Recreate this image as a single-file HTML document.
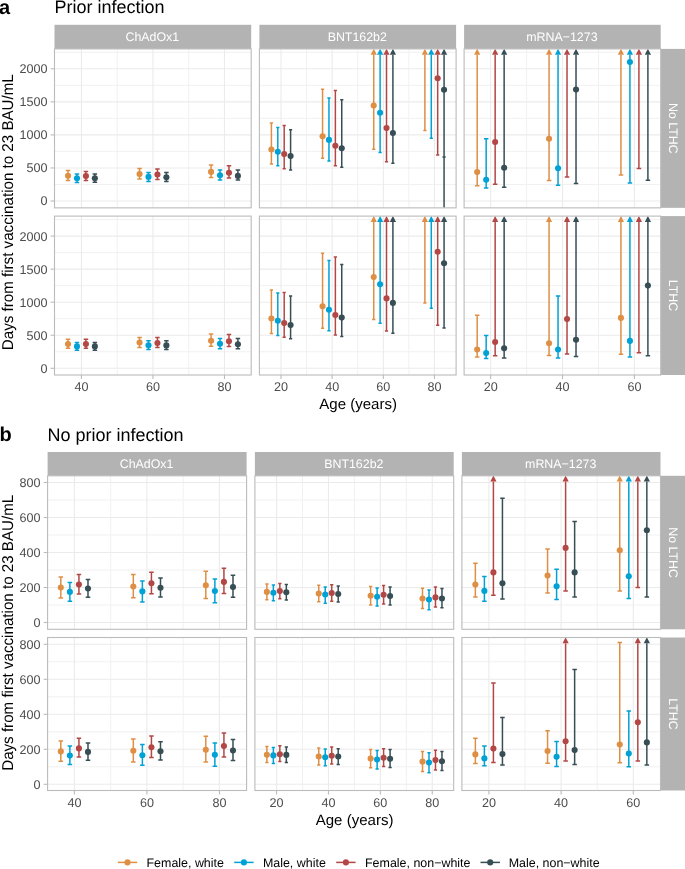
<!DOCTYPE html>
<html><head><meta charset="utf-8"><style>
html,body{margin:0;padding:0;background:#fff;}
svg{display:block;}
body>svg{will-change:transform;text-rendering:geometricPrecision;}
</style></head><body>
<svg width="685" height="869" viewBox="0 0 685 869" font-family="Liberation Sans, sans-serif">
<rect width="685" height="869" fill="#fff"/>
<text x="-0.9" y="13.9" font-size="20" font-weight="bold" fill="#000">a</text>
<text x="54.5" y="12.9" font-size="18" fill="#000">Prior infection</text>
<text x="-0.5" y="440.9" font-size="20" font-weight="bold" fill="#000">b</text>
<text x="47.5" y="440.6" font-size="18" fill="#000">No prior infection</text>
<rect x="54.5" y="24.8" width="196.7" height="24.1" fill="#B3B3B3"/>
<text transform="translate(152.35,41.1) scale(1,1.001)" text-anchor="middle" fill="#fff" font-size="12.4">ChAdOx1</text>
<rect x="259.4" y="24.8" width="196.7" height="24.1" fill="#B3B3B3"/>
<text transform="translate(357.25,41.1) scale(1,1.001)" text-anchor="middle" fill="#fff" font-size="12.4">BNT162b2</text>
<rect x="464.1" y="24.8" width="196.6" height="24.1" fill="#B3B3B3"/>
<text transform="translate(561.9,41.1) scale(1,1.001)" text-anchor="middle" fill="#fff" font-size="12.4">mRNA−1273</text>
<rect x="660.7" y="48.9" width="24.3" height="158.95" fill="#B3B3B3"/>
<text transform="translate(668.6,128.38) rotate(90) scale(1,1.001)" text-anchor="middle" fill="#fff" font-size="12.4">No LTHC</text>
<svg x="54.5" y="48.9" width="196.7" height="158.95" overflow="hidden"><g transform="translate(-54.5,-48.9)">
<rect x="54.5" y="48.9" width="196.7" height="158.95" fill="#fff"/>
<line x1="54.5" x2="251.2" y1="184.47" y2="184.47" stroke="#F1F1F1" stroke-width="1"/>
<line x1="54.5" x2="251.2" y1="151.43" y2="151.43" stroke="#F1F1F1" stroke-width="1"/>
<line x1="54.5" x2="251.2" y1="118.37" y2="118.37" stroke="#F1F1F1" stroke-width="1"/>
<line x1="54.5" x2="251.2" y1="85.32" y2="85.32" stroke="#F1F1F1" stroke-width="1"/>
<line x1="54.5" x2="251.2" y1="52.27" y2="52.27" stroke="#F1F1F1" stroke-width="1"/>
<line x1="117.21" x2="117.21" y1="48.9" y2="207.85" stroke="#F1F1F1" stroke-width="1"/>
<line x1="188.73" x2="188.73" y1="48.9" y2="207.85" stroke="#F1F1F1" stroke-width="1"/>
<line x1="54.5" x2="251.2" y1="201" y2="201" stroke="#EBEBEB" stroke-width="1.1"/>
<line x1="54.5" x2="251.2" y1="167.95" y2="167.95" stroke="#EBEBEB" stroke-width="1.1"/>
<line x1="54.5" x2="251.2" y1="134.9" y2="134.9" stroke="#EBEBEB" stroke-width="1.1"/>
<line x1="54.5" x2="251.2" y1="101.85" y2="101.85" stroke="#EBEBEB" stroke-width="1.1"/>
<line x1="54.5" x2="251.2" y1="68.8" y2="68.8" stroke="#EBEBEB" stroke-width="1.1"/>
<line x1="81.45" x2="81.45" y1="48.9" y2="207.85" stroke="#EBEBEB" stroke-width="1.1"/>
<line x1="152.97" x2="152.97" y1="48.9" y2="207.85" stroke="#EBEBEB" stroke-width="1.1"/>
<line x1="224.49" x2="224.49" y1="48.9" y2="207.85" stroke="#EBEBEB" stroke-width="1.1"/>
<line x1="68.04" x2="68.04" y1="170.5" y2="180.4" stroke="#DF8F44" stroke-width="1.5"/>
<line x1="65.81" x2="70.28" y1="170.5" y2="170.5" stroke="#DF8F44" stroke-width="1.5"/>
<line x1="65.81" x2="70.28" y1="180.4" y2="180.4" stroke="#DF8F44" stroke-width="1.5"/>
<circle cx="68.04" cy="175.8" r="3.05" fill="#DF8F44"/>
<line x1="76.98" x2="76.98" y1="174.1" y2="182.5" stroke="#00A1D5" stroke-width="1.5"/>
<line x1="74.75" x2="79.22" y1="174.1" y2="174.1" stroke="#00A1D5" stroke-width="1.5"/>
<line x1="74.75" x2="79.22" y1="182.5" y2="182.5" stroke="#00A1D5" stroke-width="1.5"/>
<circle cx="76.98" cy="178.3" r="3.05" fill="#00A1D5"/>
<line x1="85.92" x2="85.92" y1="171.5" y2="180.4" stroke="#B24745" stroke-width="1.5"/>
<line x1="83.69" x2="88.16" y1="171.5" y2="171.5" stroke="#B24745" stroke-width="1.5"/>
<line x1="83.69" x2="88.16" y1="180.4" y2="180.4" stroke="#B24745" stroke-width="1.5"/>
<circle cx="85.92" cy="176.1" r="3.05" fill="#B24745"/>
<line x1="94.86" x2="94.86" y1="174.1" y2="182.3" stroke="#374E55" stroke-width="1.5"/>
<line x1="92.62" x2="97.09" y1="174.1" y2="174.1" stroke="#374E55" stroke-width="1.5"/>
<line x1="92.62" x2="97.09" y1="182.3" y2="182.3" stroke="#374E55" stroke-width="1.5"/>
<circle cx="94.86" cy="178.3" r="3.05" fill="#374E55"/>
<line x1="139.56" x2="139.56" y1="168.6" y2="178.9" stroke="#DF8F44" stroke-width="1.5"/>
<line x1="137.32" x2="141.8" y1="168.6" y2="168.6" stroke="#DF8F44" stroke-width="1.5"/>
<line x1="137.32" x2="141.8" y1="178.9" y2="178.9" stroke="#DF8F44" stroke-width="1.5"/>
<circle cx="139.56" cy="174.1" r="3.05" fill="#DF8F44"/>
<line x1="148.5" x2="148.5" y1="172.5" y2="181.4" stroke="#00A1D5" stroke-width="1.5"/>
<line x1="146.26" x2="150.74" y1="172.5" y2="172.5" stroke="#00A1D5" stroke-width="1.5"/>
<line x1="146.26" x2="150.74" y1="181.4" y2="181.4" stroke="#00A1D5" stroke-width="1.5"/>
<circle cx="148.5" cy="176.9" r="3.05" fill="#00A1D5"/>
<line x1="157.44" x2="157.44" y1="168.9" y2="179.5" stroke="#B24745" stroke-width="1.5"/>
<line x1="155.2" x2="159.68" y1="168.9" y2="168.9" stroke="#B24745" stroke-width="1.5"/>
<line x1="155.2" x2="159.68" y1="179.5" y2="179.5" stroke="#B24745" stroke-width="1.5"/>
<circle cx="157.44" cy="174.6" r="3.05" fill="#B24745"/>
<line x1="166.38" x2="166.38" y1="172.5" y2="181.4" stroke="#374E55" stroke-width="1.5"/>
<line x1="164.14" x2="168.62" y1="172.5" y2="172.5" stroke="#374E55" stroke-width="1.5"/>
<line x1="164.14" x2="168.62" y1="181.4" y2="181.4" stroke="#374E55" stroke-width="1.5"/>
<circle cx="166.38" cy="177.3" r="3.05" fill="#374E55"/>
<line x1="211.08" x2="211.08" y1="165" y2="177.4" stroke="#DF8F44" stroke-width="1.5"/>
<line x1="208.84" x2="213.31" y1="165" y2="165" stroke="#DF8F44" stroke-width="1.5"/>
<line x1="208.84" x2="213.31" y1="177.4" y2="177.4" stroke="#DF8F44" stroke-width="1.5"/>
<circle cx="211.08" cy="171.9" r="3.05" fill="#DF8F44"/>
<line x1="220.02" x2="220.02" y1="169.9" y2="179.9" stroke="#00A1D5" stroke-width="1.5"/>
<line x1="217.78" x2="222.25" y1="169.9" y2="169.9" stroke="#00A1D5" stroke-width="1.5"/>
<line x1="217.78" x2="222.25" y1="179.9" y2="179.9" stroke="#00A1D5" stroke-width="1.5"/>
<circle cx="220.02" cy="175.2" r="3.05" fill="#00A1D5"/>
<line x1="228.96" x2="228.96" y1="165.7" y2="178.1" stroke="#B24745" stroke-width="1.5"/>
<line x1="226.72" x2="231.19" y1="165.7" y2="165.7" stroke="#B24745" stroke-width="1.5"/>
<line x1="226.72" x2="231.19" y1="178.1" y2="178.1" stroke="#B24745" stroke-width="1.5"/>
<circle cx="228.96" cy="172.8" r="3.05" fill="#B24745"/>
<line x1="237.9" x2="237.9" y1="169.9" y2="180.1" stroke="#374E55" stroke-width="1.5"/>
<line x1="235.67" x2="240.14" y1="169.9" y2="169.9" stroke="#374E55" stroke-width="1.5"/>
<line x1="235.67" x2="240.14" y1="180.1" y2="180.1" stroke="#374E55" stroke-width="1.5"/>
<circle cx="237.9" cy="175.9" r="3.05" fill="#374E55"/>
</g></svg>
<rect x="54.5" y="48.9" width="196.7" height="158.95" fill="none" stroke="#BBBBBB" stroke-width="1.1"/>
<svg x="259.4" y="48.9" width="196.7" height="158.95" overflow="hidden"><g transform="translate(-259.4,-48.9)">
<rect x="259.4" y="48.9" width="196.7" height="158.95" fill="#fff"/>
<line x1="259.4" x2="456.1" y1="184.47" y2="184.47" stroke="#F1F1F1" stroke-width="1"/>
<line x1="259.4" x2="456.1" y1="151.43" y2="151.43" stroke="#F1F1F1" stroke-width="1"/>
<line x1="259.4" x2="456.1" y1="118.37" y2="118.37" stroke="#F1F1F1" stroke-width="1"/>
<line x1="259.4" x2="456.1" y1="85.32" y2="85.32" stroke="#F1F1F1" stroke-width="1"/>
<line x1="259.4" x2="456.1" y1="52.27" y2="52.27" stroke="#F1F1F1" stroke-width="1"/>
<line x1="306.58" x2="306.58" y1="48.9" y2="207.85" stroke="#F1F1F1" stroke-width="1"/>
<line x1="357.74" x2="357.74" y1="48.9" y2="207.85" stroke="#F1F1F1" stroke-width="1"/>
<line x1="408.9" x2="408.9" y1="48.9" y2="207.85" stroke="#F1F1F1" stroke-width="1"/>
<line x1="259.4" x2="456.1" y1="201" y2="201" stroke="#EBEBEB" stroke-width="1.1"/>
<line x1="259.4" x2="456.1" y1="167.95" y2="167.95" stroke="#EBEBEB" stroke-width="1.1"/>
<line x1="259.4" x2="456.1" y1="134.9" y2="134.9" stroke="#EBEBEB" stroke-width="1.1"/>
<line x1="259.4" x2="456.1" y1="101.85" y2="101.85" stroke="#EBEBEB" stroke-width="1.1"/>
<line x1="259.4" x2="456.1" y1="68.8" y2="68.8" stroke="#EBEBEB" stroke-width="1.1"/>
<line x1="281" x2="281" y1="48.9" y2="207.85" stroke="#EBEBEB" stroke-width="1.1"/>
<line x1="332.16" x2="332.16" y1="48.9" y2="207.85" stroke="#EBEBEB" stroke-width="1.1"/>
<line x1="383.32" x2="383.32" y1="48.9" y2="207.85" stroke="#EBEBEB" stroke-width="1.1"/>
<line x1="434.48" x2="434.48" y1="48.9" y2="207.85" stroke="#EBEBEB" stroke-width="1.1"/>
<line x1="271.41" x2="271.41" y1="122.9" y2="164.1" stroke="#DF8F44" stroke-width="1.5"/>
<line x1="269.81" x2="273.01" y1="122.9" y2="122.9" stroke="#DF8F44" stroke-width="1.5"/>
<line x1="269.81" x2="273.01" y1="164.1" y2="164.1" stroke="#DF8F44" stroke-width="1.5"/>
<circle cx="271.41" cy="149.5" r="3.05" fill="#DF8F44"/>
<line x1="277.8" x2="277.8" y1="127.6" y2="165.8" stroke="#00A1D5" stroke-width="1.5"/>
<line x1="276.2" x2="279.4" y1="127.6" y2="127.6" stroke="#00A1D5" stroke-width="1.5"/>
<line x1="276.2" x2="279.4" y1="165.8" y2="165.8" stroke="#00A1D5" stroke-width="1.5"/>
<circle cx="277.8" cy="151.7" r="3.05" fill="#00A1D5"/>
<line x1="284.2" x2="284.2" y1="125.5" y2="168.8" stroke="#B24745" stroke-width="1.5"/>
<line x1="282.6" x2="285.8" y1="125.5" y2="125.5" stroke="#B24745" stroke-width="1.5"/>
<line x1="282.6" x2="285.8" y1="168.8" y2="168.8" stroke="#B24745" stroke-width="1.5"/>
<circle cx="284.2" cy="154.1" r="3.05" fill="#B24745"/>
<line x1="290.59" x2="290.59" y1="129.7" y2="170" stroke="#374E55" stroke-width="1.5"/>
<line x1="288.99" x2="292.19" y1="129.7" y2="129.7" stroke="#374E55" stroke-width="1.5"/>
<line x1="288.99" x2="292.19" y1="170" y2="170" stroke="#374E55" stroke-width="1.5"/>
<circle cx="290.59" cy="156.1" r="3.05" fill="#374E55"/>
<line x1="322.57" x2="322.57" y1="89.2" y2="158.3" stroke="#DF8F44" stroke-width="1.5"/>
<line x1="320.97" x2="324.17" y1="89.2" y2="89.2" stroke="#DF8F44" stroke-width="1.5"/>
<line x1="320.97" x2="324.17" y1="158.3" y2="158.3" stroke="#DF8F44" stroke-width="1.5"/>
<circle cx="322.57" cy="136.2" r="3.05" fill="#DF8F44"/>
<line x1="328.96" x2="328.96" y1="97.9" y2="160.9" stroke="#00A1D5" stroke-width="1.5"/>
<line x1="327.36" x2="330.56" y1="97.9" y2="97.9" stroke="#00A1D5" stroke-width="1.5"/>
<line x1="327.36" x2="330.56" y1="160.9" y2="160.9" stroke="#00A1D5" stroke-width="1.5"/>
<circle cx="328.96" cy="139.9" r="3.05" fill="#00A1D5"/>
<line x1="335.36" x2="335.36" y1="90.6" y2="165.8" stroke="#B24745" stroke-width="1.5"/>
<line x1="333.76" x2="336.96" y1="90.6" y2="90.6" stroke="#B24745" stroke-width="1.5"/>
<line x1="333.76" x2="336.96" y1="165.8" y2="165.8" stroke="#B24745" stroke-width="1.5"/>
<circle cx="335.36" cy="145.7" r="3.05" fill="#B24745"/>
<line x1="341.75" x2="341.75" y1="99.8" y2="167.3" stroke="#374E55" stroke-width="1.5"/>
<line x1="340.15" x2="343.35" y1="99.8" y2="99.8" stroke="#374E55" stroke-width="1.5"/>
<line x1="340.15" x2="343.35" y1="167.3" y2="167.3" stroke="#374E55" stroke-width="1.5"/>
<circle cx="341.75" cy="148.2" r="3.05" fill="#374E55"/>
<line x1="373.73" x2="373.73" y1="54.7" y2="149.3" stroke="#DF8F44" stroke-width="1.5"/>
<path d="M373.73 48.7L376.83 54.7L370.63 54.7Z" fill="#DF8F44"/>
<line x1="372.13" x2="375.33" y1="149.3" y2="149.3" stroke="#DF8F44" stroke-width="1.5"/>
<circle cx="373.73" cy="105.6" r="3.05" fill="#DF8F44"/>
<line x1="380.12" x2="380.12" y1="54.7" y2="152.5" stroke="#00A1D5" stroke-width="1.5"/>
<path d="M380.12 48.7L383.22 54.7L377.02 54.7Z" fill="#00A1D5"/>
<line x1="378.52" x2="381.72" y1="152.5" y2="152.5" stroke="#00A1D5" stroke-width="1.5"/>
<circle cx="380.12" cy="112.7" r="3.05" fill="#00A1D5"/>
<line x1="386.52" x2="386.52" y1="54.7" y2="161.8" stroke="#B24745" stroke-width="1.5"/>
<path d="M386.52 48.7L389.62 54.7L383.42 54.7Z" fill="#B24745"/>
<line x1="384.92" x2="388.12" y1="161.8" y2="161.8" stroke="#B24745" stroke-width="1.5"/>
<circle cx="386.52" cy="128.1" r="3.05" fill="#B24745"/>
<line x1="392.91" x2="392.91" y1="54.7" y2="163.3" stroke="#374E55" stroke-width="1.5"/>
<path d="M392.91 48.7L396.01 54.7L389.81 54.7Z" fill="#374E55"/>
<line x1="391.31" x2="394.51" y1="163.3" y2="163.3" stroke="#374E55" stroke-width="1.5"/>
<circle cx="392.91" cy="133" r="3.05" fill="#374E55"/>
<line x1="424.89" x2="424.89" y1="54.7" y2="130.5" stroke="#DF8F44" stroke-width="1.5"/>
<path d="M424.89 48.7L427.99 54.7L421.79 54.7Z" fill="#DF8F44"/>
<line x1="423.29" x2="426.49" y1="130.5" y2="130.5" stroke="#DF8F44" stroke-width="1.5"/>
<line x1="431.28" x2="431.28" y1="54.7" y2="138.2" stroke="#00A1D5" stroke-width="1.5"/>
<path d="M431.28 48.7L434.38 54.7L428.18 54.7Z" fill="#00A1D5"/>
<line x1="429.68" x2="432.88" y1="138.2" y2="138.2" stroke="#00A1D5" stroke-width="1.5"/>
<line x1="437.68" x2="437.68" y1="54.7" y2="154.9" stroke="#B24745" stroke-width="1.5"/>
<path d="M437.68 48.7L440.78 54.7L434.58 54.7Z" fill="#B24745"/>
<line x1="436.08" x2="439.28" y1="154.9" y2="154.9" stroke="#B24745" stroke-width="1.5"/>
<circle cx="437.68" cy="78.3" r="3.05" fill="#B24745"/>
<line x1="444.07" x2="444.07" y1="54.7" y2="209.85" stroke="#374E55" stroke-width="1.5"/>
<path d="M444.07 48.7L447.17 54.7L440.97 54.7Z" fill="#374E55"/>
<circle cx="444.07" cy="89.7" r="3.05" fill="#374E55"/>
<line x1="442.47" x2="445.67" y1="156.9" y2="156.9" stroke="#374E55" stroke-width="1.5"/>
</g></svg>
<rect x="259.4" y="48.9" width="196.7" height="158.95" fill="none" stroke="#BBBBBB" stroke-width="1.1"/>
<svg x="464.1" y="48.9" width="196.6" height="158.95" overflow="hidden"><g transform="translate(-464.1,-48.9)">
<rect x="464.1" y="48.9" width="196.6" height="158.95" fill="#fff"/>
<line x1="464.1" x2="660.7" y1="184.47" y2="184.47" stroke="#F1F1F1" stroke-width="1"/>
<line x1="464.1" x2="660.7" y1="151.43" y2="151.43" stroke="#F1F1F1" stroke-width="1"/>
<line x1="464.1" x2="660.7" y1="118.37" y2="118.37" stroke="#F1F1F1" stroke-width="1"/>
<line x1="464.1" x2="660.7" y1="85.32" y2="85.32" stroke="#F1F1F1" stroke-width="1"/>
<line x1="464.1" x2="660.7" y1="52.27" y2="52.27" stroke="#F1F1F1" stroke-width="1"/>
<line x1="526.6" x2="526.6" y1="48.9" y2="207.85" stroke="#F1F1F1" stroke-width="1"/>
<line x1="598.48" x2="598.48" y1="48.9" y2="207.85" stroke="#F1F1F1" stroke-width="1"/>
<line x1="464.1" x2="660.7" y1="201" y2="201" stroke="#EBEBEB" stroke-width="1.1"/>
<line x1="464.1" x2="660.7" y1="167.95" y2="167.95" stroke="#EBEBEB" stroke-width="1.1"/>
<line x1="464.1" x2="660.7" y1="134.9" y2="134.9" stroke="#EBEBEB" stroke-width="1.1"/>
<line x1="464.1" x2="660.7" y1="101.85" y2="101.85" stroke="#EBEBEB" stroke-width="1.1"/>
<line x1="464.1" x2="660.7" y1="68.8" y2="68.8" stroke="#EBEBEB" stroke-width="1.1"/>
<line x1="490.66" x2="490.66" y1="48.9" y2="207.85" stroke="#EBEBEB" stroke-width="1.1"/>
<line x1="562.54" x2="562.54" y1="48.9" y2="207.85" stroke="#EBEBEB" stroke-width="1.1"/>
<line x1="634.42" x2="634.42" y1="48.9" y2="207.85" stroke="#EBEBEB" stroke-width="1.1"/>
<line x1="477.18" x2="477.18" y1="54.7" y2="185.7" stroke="#DF8F44" stroke-width="1.5"/>
<path d="M477.18 48.7L480.28 54.7L474.08 54.7Z" fill="#DF8F44"/>
<line x1="474.94" x2="479.43" y1="185.7" y2="185.7" stroke="#DF8F44" stroke-width="1.5"/>
<circle cx="477.18" cy="172.1" r="3.05" fill="#DF8F44"/>
<line x1="486.17" x2="486.17" y1="138.75" y2="187.9" stroke="#00A1D5" stroke-width="1.5"/>
<line x1="483.92" x2="488.41" y1="138.75" y2="138.75" stroke="#00A1D5" stroke-width="1.5"/>
<line x1="483.92" x2="488.41" y1="187.9" y2="187.9" stroke="#00A1D5" stroke-width="1.5"/>
<circle cx="486.17" cy="179.8" r="3.05" fill="#00A1D5"/>
<line x1="495.15" x2="495.15" y1="54.7" y2="184.3" stroke="#B24745" stroke-width="1.5"/>
<path d="M495.15 48.7L498.25 54.7L492.05 54.7Z" fill="#B24745"/>
<line x1="492.91" x2="497.4" y1="184.3" y2="184.3" stroke="#B24745" stroke-width="1.5"/>
<circle cx="495.15" cy="142" r="3.05" fill="#B24745"/>
<line x1="504.14" x2="504.14" y1="54.7" y2="187.3" stroke="#374E55" stroke-width="1.5"/>
<path d="M504.14 48.7L507.24 54.7L501.04 54.7Z" fill="#374E55"/>
<line x1="501.89" x2="506.38" y1="187.3" y2="187.3" stroke="#374E55" stroke-width="1.5"/>
<circle cx="504.14" cy="167.7" r="3.05" fill="#374E55"/>
<line x1="549.06" x2="549.06" y1="54.7" y2="180.4" stroke="#DF8F44" stroke-width="1.5"/>
<path d="M549.06 48.7L552.16 54.7L545.96 54.7Z" fill="#DF8F44"/>
<line x1="546.82" x2="551.31" y1="180.4" y2="180.4" stroke="#DF8F44" stroke-width="1.5"/>
<circle cx="549.06" cy="138.75" r="3.05" fill="#DF8F44"/>
<line x1="558.05" x2="558.05" y1="54.7" y2="185.2" stroke="#00A1D5" stroke-width="1.5"/>
<path d="M558.05 48.7L561.15 54.7L554.95 54.7Z" fill="#00A1D5"/>
<line x1="555.8" x2="560.29" y1="185.2" y2="185.2" stroke="#00A1D5" stroke-width="1.5"/>
<circle cx="558.05" cy="168.2" r="3.05" fill="#00A1D5"/>
<line x1="567.03" x2="567.03" y1="54.7" y2="177.1" stroke="#B24745" stroke-width="1.5"/>
<path d="M567.03 48.7L570.13 54.7L563.93 54.7Z" fill="#B24745"/>
<line x1="564.79" x2="569.28" y1="177.1" y2="177.1" stroke="#B24745" stroke-width="1.5"/>
<line x1="576.02" x2="576.02" y1="54.7" y2="183.4" stroke="#374E55" stroke-width="1.5"/>
<path d="M576.02 48.7L579.12 54.7L572.92 54.7Z" fill="#374E55"/>
<line x1="573.77" x2="578.26" y1="183.4" y2="183.4" stroke="#374E55" stroke-width="1.5"/>
<circle cx="576.02" cy="89.6" r="3.05" fill="#374E55"/>
<line x1="620.94" x2="620.94" y1="54.7" y2="175" stroke="#DF8F44" stroke-width="1.5"/>
<path d="M620.94 48.7L624.04 54.7L617.84 54.7Z" fill="#DF8F44"/>
<line x1="618.7" x2="623.19" y1="175" y2="175" stroke="#DF8F44" stroke-width="1.5"/>
<line x1="629.93" x2="629.93" y1="54.7" y2="182.9" stroke="#00A1D5" stroke-width="1.5"/>
<path d="M629.93 48.7L633.03 54.7L626.83 54.7Z" fill="#00A1D5"/>
<line x1="627.68" x2="632.17" y1="182.9" y2="182.9" stroke="#00A1D5" stroke-width="1.5"/>
<circle cx="629.93" cy="62" r="3.05" fill="#00A1D5"/>
<line x1="638.91" x2="638.91" y1="54.7" y2="168.6" stroke="#B24745" stroke-width="1.5"/>
<path d="M638.91 48.7L642.01 54.7L635.81 54.7Z" fill="#B24745"/>
<line x1="636.67" x2="641.16" y1="168.6" y2="168.6" stroke="#B24745" stroke-width="1.5"/>
<line x1="647.9" x2="647.9" y1="54.7" y2="180.2" stroke="#374E55" stroke-width="1.5"/>
<path d="M647.9 48.7L651 54.7L644.8 54.7Z" fill="#374E55"/>
<line x1="645.65" x2="650.14" y1="180.2" y2="180.2" stroke="#374E55" stroke-width="1.5"/>
</g></svg>
<rect x="464.1" y="48.9" width="196.6" height="158.95" fill="none" stroke="#BBBBBB" stroke-width="1.1"/>
<line x1="50.6" x2="54.5" y1="201" y2="201" stroke="#BBBBBB" stroke-width="1.1"/>
<text transform="translate(47.5,205.4) scale(1,1.001)" text-anchor="end" fill="#4D4D4D" font-size="12.6">0</text>
<line x1="50.6" x2="54.5" y1="167.95" y2="167.95" stroke="#BBBBBB" stroke-width="1.1"/>
<text transform="translate(47.5,172.35) scale(1,1.001)" text-anchor="end" fill="#4D4D4D" font-size="12.6">500</text>
<line x1="50.6" x2="54.5" y1="134.9" y2="134.9" stroke="#BBBBBB" stroke-width="1.1"/>
<text transform="translate(47.5,139.3) scale(1,1.001)" text-anchor="end" fill="#4D4D4D" font-size="12.6">1000</text>
<line x1="50.6" x2="54.5" y1="101.85" y2="101.85" stroke="#BBBBBB" stroke-width="1.1"/>
<text transform="translate(47.5,106.25) scale(1,1.001)" text-anchor="end" fill="#4D4D4D" font-size="12.6">1500</text>
<line x1="50.6" x2="54.5" y1="68.8" y2="68.8" stroke="#BBBBBB" stroke-width="1.1"/>
<text transform="translate(47.5,73.2) scale(1,1.001)" text-anchor="end" fill="#4D4D4D" font-size="12.6">2000</text>
<rect x="660.7" y="216.1" width="24.3" height="158.9" fill="#B3B3B3"/>
<text transform="translate(668.6,295.55) rotate(90) scale(1,1.001)" text-anchor="middle" fill="#fff" font-size="12.4">LTHC</text>
<svg x="54.5" y="216.1" width="196.7" height="158.9" overflow="hidden"><g transform="translate(-54.5,-216.1)">
<rect x="54.5" y="216.1" width="196.7" height="158.9" fill="#fff"/>
<line x1="54.5" x2="251.2" y1="351.78" y2="351.78" stroke="#F1F1F1" stroke-width="1"/>
<line x1="54.5" x2="251.2" y1="318.73" y2="318.73" stroke="#F1F1F1" stroke-width="1"/>
<line x1="54.5" x2="251.2" y1="285.68" y2="285.68" stroke="#F1F1F1" stroke-width="1"/>
<line x1="54.5" x2="251.2" y1="252.62" y2="252.62" stroke="#F1F1F1" stroke-width="1"/>
<line x1="54.5" x2="251.2" y1="219.57" y2="219.57" stroke="#F1F1F1" stroke-width="1"/>
<line x1="117.21" x2="117.21" y1="216.1" y2="375" stroke="#F1F1F1" stroke-width="1"/>
<line x1="188.73" x2="188.73" y1="216.1" y2="375" stroke="#F1F1F1" stroke-width="1"/>
<line x1="54.5" x2="251.2" y1="368.3" y2="368.3" stroke="#EBEBEB" stroke-width="1.1"/>
<line x1="54.5" x2="251.2" y1="335.25" y2="335.25" stroke="#EBEBEB" stroke-width="1.1"/>
<line x1="54.5" x2="251.2" y1="302.2" y2="302.2" stroke="#EBEBEB" stroke-width="1.1"/>
<line x1="54.5" x2="251.2" y1="269.15" y2="269.15" stroke="#EBEBEB" stroke-width="1.1"/>
<line x1="54.5" x2="251.2" y1="236.1" y2="236.1" stroke="#EBEBEB" stroke-width="1.1"/>
<line x1="81.45" x2="81.45" y1="216.1" y2="375" stroke="#EBEBEB" stroke-width="1.1"/>
<line x1="152.97" x2="152.97" y1="216.1" y2="375" stroke="#EBEBEB" stroke-width="1.1"/>
<line x1="224.49" x2="224.49" y1="216.1" y2="375" stroke="#EBEBEB" stroke-width="1.1"/>
<line x1="68.04" x2="68.04" y1="339.3" y2="348.3" stroke="#DF8F44" stroke-width="1.5"/>
<line x1="65.81" x2="70.28" y1="339.3" y2="339.3" stroke="#DF8F44" stroke-width="1.5"/>
<line x1="65.81" x2="70.28" y1="348.3" y2="348.3" stroke="#DF8F44" stroke-width="1.5"/>
<circle cx="68.04" cy="344.1" r="3.05" fill="#DF8F44"/>
<line x1="76.98" x2="76.98" y1="342.4" y2="350.3" stroke="#00A1D5" stroke-width="1.5"/>
<line x1="74.75" x2="79.22" y1="342.4" y2="342.4" stroke="#00A1D5" stroke-width="1.5"/>
<line x1="74.75" x2="79.22" y1="350.3" y2="350.3" stroke="#00A1D5" stroke-width="1.5"/>
<circle cx="76.98" cy="346.4" r="3.05" fill="#00A1D5"/>
<line x1="85.92" x2="85.92" y1="339.3" y2="348.3" stroke="#B24745" stroke-width="1.5"/>
<line x1="83.69" x2="88.16" y1="339.3" y2="339.3" stroke="#B24745" stroke-width="1.5"/>
<line x1="83.69" x2="88.16" y1="348.3" y2="348.3" stroke="#B24745" stroke-width="1.5"/>
<circle cx="85.92" cy="344.1" r="3.05" fill="#B24745"/>
<line x1="94.86" x2="94.86" y1="342.4" y2="350.3" stroke="#374E55" stroke-width="1.5"/>
<line x1="92.62" x2="97.09" y1="342.4" y2="342.4" stroke="#374E55" stroke-width="1.5"/>
<line x1="92.62" x2="97.09" y1="350.3" y2="350.3" stroke="#374E55" stroke-width="1.5"/>
<circle cx="94.86" cy="346.4" r="3.05" fill="#374E55"/>
<line x1="139.56" x2="139.56" y1="337.5" y2="347.4" stroke="#DF8F44" stroke-width="1.5"/>
<line x1="137.32" x2="141.8" y1="337.5" y2="337.5" stroke="#DF8F44" stroke-width="1.5"/>
<line x1="137.32" x2="141.8" y1="347.4" y2="347.4" stroke="#DF8F44" stroke-width="1.5"/>
<circle cx="139.56" cy="342.6" r="3.05" fill="#DF8F44"/>
<line x1="148.5" x2="148.5" y1="340.8" y2="349.6" stroke="#00A1D5" stroke-width="1.5"/>
<line x1="146.26" x2="150.74" y1="340.8" y2="340.8" stroke="#00A1D5" stroke-width="1.5"/>
<line x1="146.26" x2="150.74" y1="349.6" y2="349.6" stroke="#00A1D5" stroke-width="1.5"/>
<circle cx="148.5" cy="345.2" r="3.05" fill="#00A1D5"/>
<line x1="157.44" x2="157.44" y1="337.5" y2="347.6" stroke="#B24745" stroke-width="1.5"/>
<line x1="155.2" x2="159.68" y1="337.5" y2="337.5" stroke="#B24745" stroke-width="1.5"/>
<line x1="155.2" x2="159.68" y1="347.6" y2="347.6" stroke="#B24745" stroke-width="1.5"/>
<circle cx="157.44" cy="343" r="3.05" fill="#B24745"/>
<line x1="166.38" x2="166.38" y1="340.8" y2="349.6" stroke="#374E55" stroke-width="1.5"/>
<line x1="164.14" x2="168.62" y1="340.8" y2="340.8" stroke="#374E55" stroke-width="1.5"/>
<line x1="164.14" x2="168.62" y1="349.6" y2="349.6" stroke="#374E55" stroke-width="1.5"/>
<circle cx="166.38" cy="345.4" r="3.05" fill="#374E55"/>
<line x1="211.08" x2="211.08" y1="334.1" y2="346.2" stroke="#DF8F44" stroke-width="1.5"/>
<line x1="208.84" x2="213.31" y1="334.1" y2="334.1" stroke="#DF8F44" stroke-width="1.5"/>
<line x1="208.84" x2="213.31" y1="346.2" y2="346.2" stroke="#DF8F44" stroke-width="1.5"/>
<circle cx="211.08" cy="340.7" r="3.05" fill="#DF8F44"/>
<line x1="220.02" x2="220.02" y1="338.5" y2="348.7" stroke="#00A1D5" stroke-width="1.5"/>
<line x1="217.78" x2="222.25" y1="338.5" y2="338.5" stroke="#00A1D5" stroke-width="1.5"/>
<line x1="217.78" x2="222.25" y1="348.7" y2="348.7" stroke="#00A1D5" stroke-width="1.5"/>
<circle cx="220.02" cy="343.8" r="3.05" fill="#00A1D5"/>
<line x1="228.96" x2="228.96" y1="334.6" y2="346.5" stroke="#B24745" stroke-width="1.5"/>
<line x1="226.72" x2="231.19" y1="334.6" y2="334.6" stroke="#B24745" stroke-width="1.5"/>
<line x1="226.72" x2="231.19" y1="346.5" y2="346.5" stroke="#B24745" stroke-width="1.5"/>
<circle cx="228.96" cy="341.3" r="3.05" fill="#B24745"/>
<line x1="237.9" x2="237.9" y1="338.5" y2="348.7" stroke="#374E55" stroke-width="1.5"/>
<line x1="235.67" x2="240.14" y1="338.5" y2="338.5" stroke="#374E55" stroke-width="1.5"/>
<line x1="235.67" x2="240.14" y1="348.7" y2="348.7" stroke="#374E55" stroke-width="1.5"/>
<circle cx="237.9" cy="344.2" r="3.05" fill="#374E55"/>
</g></svg>
<rect x="54.5" y="216.1" width="196.7" height="158.9" fill="none" stroke="#BBBBBB" stroke-width="1.1"/>
<svg x="259.4" y="216.1" width="196.7" height="158.9" overflow="hidden"><g transform="translate(-259.4,-216.1)">
<rect x="259.4" y="216.1" width="196.7" height="158.9" fill="#fff"/>
<line x1="259.4" x2="456.1" y1="351.78" y2="351.78" stroke="#F1F1F1" stroke-width="1"/>
<line x1="259.4" x2="456.1" y1="318.73" y2="318.73" stroke="#F1F1F1" stroke-width="1"/>
<line x1="259.4" x2="456.1" y1="285.68" y2="285.68" stroke="#F1F1F1" stroke-width="1"/>
<line x1="259.4" x2="456.1" y1="252.62" y2="252.62" stroke="#F1F1F1" stroke-width="1"/>
<line x1="259.4" x2="456.1" y1="219.57" y2="219.57" stroke="#F1F1F1" stroke-width="1"/>
<line x1="306.58" x2="306.58" y1="216.1" y2="375" stroke="#F1F1F1" stroke-width="1"/>
<line x1="357.74" x2="357.74" y1="216.1" y2="375" stroke="#F1F1F1" stroke-width="1"/>
<line x1="408.9" x2="408.9" y1="216.1" y2="375" stroke="#F1F1F1" stroke-width="1"/>
<line x1="259.4" x2="456.1" y1="368.3" y2="368.3" stroke="#EBEBEB" stroke-width="1.1"/>
<line x1="259.4" x2="456.1" y1="335.25" y2="335.25" stroke="#EBEBEB" stroke-width="1.1"/>
<line x1="259.4" x2="456.1" y1="302.2" y2="302.2" stroke="#EBEBEB" stroke-width="1.1"/>
<line x1="259.4" x2="456.1" y1="269.15" y2="269.15" stroke="#EBEBEB" stroke-width="1.1"/>
<line x1="259.4" x2="456.1" y1="236.1" y2="236.1" stroke="#EBEBEB" stroke-width="1.1"/>
<line x1="281" x2="281" y1="216.1" y2="375" stroke="#EBEBEB" stroke-width="1.1"/>
<line x1="332.16" x2="332.16" y1="216.1" y2="375" stroke="#EBEBEB" stroke-width="1.1"/>
<line x1="383.32" x2="383.32" y1="216.1" y2="375" stroke="#EBEBEB" stroke-width="1.1"/>
<line x1="434.48" x2="434.48" y1="216.1" y2="375" stroke="#EBEBEB" stroke-width="1.1"/>
<line x1="271.41" x2="271.41" y1="290.1" y2="333.5" stroke="#DF8F44" stroke-width="1.5"/>
<line x1="269.81" x2="273.01" y1="290.1" y2="290.1" stroke="#DF8F44" stroke-width="1.5"/>
<line x1="269.81" x2="273.01" y1="333.5" y2="333.5" stroke="#DF8F44" stroke-width="1.5"/>
<circle cx="271.41" cy="318.5" r="3.05" fill="#DF8F44"/>
<line x1="277.8" x2="277.8" y1="293" y2="335.4" stroke="#00A1D5" stroke-width="1.5"/>
<line x1="276.2" x2="279.4" y1="293" y2="293" stroke="#00A1D5" stroke-width="1.5"/>
<line x1="276.2" x2="279.4" y1="335.4" y2="335.4" stroke="#00A1D5" stroke-width="1.5"/>
<circle cx="277.8" cy="320.7" r="3.05" fill="#00A1D5"/>
<line x1="284.2" x2="284.2" y1="292.5" y2="337.3" stroke="#B24745" stroke-width="1.5"/>
<line x1="282.6" x2="285.8" y1="292.5" y2="292.5" stroke="#B24745" stroke-width="1.5"/>
<line x1="282.6" x2="285.8" y1="337.3" y2="337.3" stroke="#B24745" stroke-width="1.5"/>
<circle cx="284.2" cy="323.1" r="3.05" fill="#B24745"/>
<line x1="290.59" x2="290.59" y1="295.9" y2="338.8" stroke="#374E55" stroke-width="1.5"/>
<line x1="288.99" x2="292.19" y1="295.9" y2="295.9" stroke="#374E55" stroke-width="1.5"/>
<line x1="288.99" x2="292.19" y1="338.8" y2="338.8" stroke="#374E55" stroke-width="1.5"/>
<circle cx="290.59" cy="325.1" r="3.05" fill="#374E55"/>
<line x1="322.57" x2="322.57" y1="253.3" y2="328.2" stroke="#DF8F44" stroke-width="1.5"/>
<line x1="320.97" x2="324.17" y1="253.3" y2="253.3" stroke="#DF8F44" stroke-width="1.5"/>
<line x1="320.97" x2="324.17" y1="328.2" y2="328.2" stroke="#DF8F44" stroke-width="1.5"/>
<circle cx="322.57" cy="306.3" r="3.05" fill="#DF8F44"/>
<line x1="328.96" x2="328.96" y1="260.6" y2="330.8" stroke="#00A1D5" stroke-width="1.5"/>
<line x1="327.36" x2="330.56" y1="260.6" y2="260.6" stroke="#00A1D5" stroke-width="1.5"/>
<line x1="327.36" x2="330.56" y1="330.8" y2="330.8" stroke="#00A1D5" stroke-width="1.5"/>
<circle cx="328.96" cy="309.7" r="3.05" fill="#00A1D5"/>
<line x1="335.36" x2="335.36" y1="257.1" y2="335.1" stroke="#B24745" stroke-width="1.5"/>
<line x1="333.76" x2="336.96" y1="257.1" y2="257.1" stroke="#B24745" stroke-width="1.5"/>
<line x1="333.76" x2="336.96" y1="335.1" y2="335.1" stroke="#B24745" stroke-width="1.5"/>
<circle cx="335.36" cy="315" r="3.05" fill="#B24745"/>
<line x1="341.75" x2="341.75" y1="264.4" y2="336.6" stroke="#374E55" stroke-width="1.5"/>
<line x1="340.15" x2="343.35" y1="264.4" y2="264.4" stroke="#374E55" stroke-width="1.5"/>
<line x1="340.15" x2="343.35" y1="336.6" y2="336.6" stroke="#374E55" stroke-width="1.5"/>
<circle cx="341.75" cy="317.6" r="3.05" fill="#374E55"/>
<line x1="373.73" x2="373.73" y1="221.9" y2="319.5" stroke="#DF8F44" stroke-width="1.5"/>
<path d="M373.73 215.9L376.83 221.9L370.63 221.9Z" fill="#DF8F44"/>
<line x1="372.13" x2="375.33" y1="319.5" y2="319.5" stroke="#DF8F44" stroke-width="1.5"/>
<circle cx="373.73" cy="277.1" r="3.05" fill="#DF8F44"/>
<line x1="380.12" x2="380.12" y1="221.9" y2="323.2" stroke="#00A1D5" stroke-width="1.5"/>
<path d="M380.12 215.9L383.22 221.9L377.02 221.9Z" fill="#00A1D5"/>
<line x1="378.52" x2="381.72" y1="323.2" y2="323.2" stroke="#00A1D5" stroke-width="1.5"/>
<circle cx="380.12" cy="284.3" r="3.05" fill="#00A1D5"/>
<line x1="386.52" x2="386.52" y1="221.9" y2="331" stroke="#B24745" stroke-width="1.5"/>
<path d="M386.52 215.9L389.62 221.9L383.42 221.9Z" fill="#B24745"/>
<line x1="384.92" x2="388.12" y1="331" y2="331" stroke="#B24745" stroke-width="1.5"/>
<circle cx="386.52" cy="298.4" r="3.05" fill="#B24745"/>
<line x1="392.91" x2="392.91" y1="221.9" y2="333.3" stroke="#374E55" stroke-width="1.5"/>
<path d="M392.91 215.9L396.01 221.9L389.81 221.9Z" fill="#374E55"/>
<line x1="391.31" x2="394.51" y1="333.3" y2="333.3" stroke="#374E55" stroke-width="1.5"/>
<circle cx="392.91" cy="302.9" r="3.05" fill="#374E55"/>
<line x1="424.89" x2="424.89" y1="221.9" y2="302.9" stroke="#DF8F44" stroke-width="1.5"/>
<path d="M424.89 215.9L427.99 221.9L421.79 221.9Z" fill="#DF8F44"/>
<line x1="423.29" x2="426.49" y1="302.9" y2="302.9" stroke="#DF8F44" stroke-width="1.5"/>
<line x1="431.28" x2="431.28" y1="221.9" y2="308.3" stroke="#00A1D5" stroke-width="1.5"/>
<path d="M431.28 215.9L434.38 221.9L428.18 221.9Z" fill="#00A1D5"/>
<line x1="429.68" x2="432.88" y1="308.3" y2="308.3" stroke="#00A1D5" stroke-width="1.5"/>
<line x1="437.68" x2="437.68" y1="221.9" y2="325.3" stroke="#B24745" stroke-width="1.5"/>
<path d="M437.68 215.9L440.78 221.9L434.58 221.9Z" fill="#B24745"/>
<line x1="436.08" x2="439.28" y1="325.3" y2="325.3" stroke="#B24745" stroke-width="1.5"/>
<circle cx="437.68" cy="251.7" r="3.05" fill="#B24745"/>
<line x1="444.07" x2="444.07" y1="221.9" y2="328" stroke="#374E55" stroke-width="1.5"/>
<path d="M444.07 215.9L447.17 221.9L440.97 221.9Z" fill="#374E55"/>
<line x1="442.47" x2="445.67" y1="328" y2="328" stroke="#374E55" stroke-width="1.5"/>
<circle cx="444.07" cy="263.3" r="3.05" fill="#374E55"/>
</g></svg>
<rect x="259.4" y="216.1" width="196.7" height="158.9" fill="none" stroke="#BBBBBB" stroke-width="1.1"/>
<svg x="464.1" y="216.1" width="196.6" height="158.9" overflow="hidden"><g transform="translate(-464.1,-216.1)">
<rect x="464.1" y="216.1" width="196.6" height="158.9" fill="#fff"/>
<line x1="464.1" x2="660.7" y1="351.78" y2="351.78" stroke="#F1F1F1" stroke-width="1"/>
<line x1="464.1" x2="660.7" y1="318.73" y2="318.73" stroke="#F1F1F1" stroke-width="1"/>
<line x1="464.1" x2="660.7" y1="285.68" y2="285.68" stroke="#F1F1F1" stroke-width="1"/>
<line x1="464.1" x2="660.7" y1="252.62" y2="252.62" stroke="#F1F1F1" stroke-width="1"/>
<line x1="464.1" x2="660.7" y1="219.57" y2="219.57" stroke="#F1F1F1" stroke-width="1"/>
<line x1="526.6" x2="526.6" y1="216.1" y2="375" stroke="#F1F1F1" stroke-width="1"/>
<line x1="598.48" x2="598.48" y1="216.1" y2="375" stroke="#F1F1F1" stroke-width="1"/>
<line x1="464.1" x2="660.7" y1="368.3" y2="368.3" stroke="#EBEBEB" stroke-width="1.1"/>
<line x1="464.1" x2="660.7" y1="335.25" y2="335.25" stroke="#EBEBEB" stroke-width="1.1"/>
<line x1="464.1" x2="660.7" y1="302.2" y2="302.2" stroke="#EBEBEB" stroke-width="1.1"/>
<line x1="464.1" x2="660.7" y1="269.15" y2="269.15" stroke="#EBEBEB" stroke-width="1.1"/>
<line x1="464.1" x2="660.7" y1="236.1" y2="236.1" stroke="#EBEBEB" stroke-width="1.1"/>
<line x1="490.66" x2="490.66" y1="216.1" y2="375" stroke="#EBEBEB" stroke-width="1.1"/>
<line x1="562.54" x2="562.54" y1="216.1" y2="375" stroke="#EBEBEB" stroke-width="1.1"/>
<line x1="634.42" x2="634.42" y1="216.1" y2="375" stroke="#EBEBEB" stroke-width="1.1"/>
<line x1="477.18" x2="477.18" y1="315.2" y2="357" stroke="#DF8F44" stroke-width="1.5"/>
<line x1="474.94" x2="479.43" y1="315.2" y2="315.2" stroke="#DF8F44" stroke-width="1.5"/>
<line x1="474.94" x2="479.43" y1="357" y2="357" stroke="#DF8F44" stroke-width="1.5"/>
<circle cx="477.18" cy="349.5" r="3.05" fill="#DF8F44"/>
<line x1="486.17" x2="486.17" y1="335.6" y2="358.4" stroke="#00A1D5" stroke-width="1.5"/>
<line x1="483.92" x2="488.41" y1="335.6" y2="335.6" stroke="#00A1D5" stroke-width="1.5"/>
<line x1="483.92" x2="488.41" y1="358.4" y2="358.4" stroke="#00A1D5" stroke-width="1.5"/>
<circle cx="486.17" cy="353.1" r="3.05" fill="#00A1D5"/>
<line x1="495.15" x2="495.15" y1="221.9" y2="355.75" stroke="#B24745" stroke-width="1.5"/>
<path d="M495.15 215.9L498.25 221.9L492.05 221.9Z" fill="#B24745"/>
<line x1="492.91" x2="497.4" y1="355.75" y2="355.75" stroke="#B24745" stroke-width="1.5"/>
<circle cx="495.15" cy="342" r="3.05" fill="#B24745"/>
<line x1="504.14" x2="504.14" y1="221.9" y2="358.1" stroke="#374E55" stroke-width="1.5"/>
<path d="M504.14 215.9L507.24 221.9L501.04 221.9Z" fill="#374E55"/>
<line x1="501.89" x2="506.38" y1="358.1" y2="358.1" stroke="#374E55" stroke-width="1.5"/>
<circle cx="504.14" cy="348.25" r="3.05" fill="#374E55"/>
<line x1="549.06" x2="549.06" y1="221.9" y2="355.4" stroke="#DF8F44" stroke-width="1.5"/>
<path d="M549.06 215.9L552.16 221.9L545.96 221.9Z" fill="#DF8F44"/>
<line x1="546.82" x2="551.31" y1="355.4" y2="355.4" stroke="#DF8F44" stroke-width="1.5"/>
<circle cx="549.06" cy="343.25" r="3.05" fill="#DF8F44"/>
<line x1="558.05" x2="558.05" y1="295.9" y2="357.9" stroke="#00A1D5" stroke-width="1.5"/>
<line x1="555.8" x2="560.29" y1="295.9" y2="295.9" stroke="#00A1D5" stroke-width="1.5"/>
<line x1="555.8" x2="560.29" y1="357.9" y2="357.9" stroke="#00A1D5" stroke-width="1.5"/>
<circle cx="558.05" cy="349.5" r="3.05" fill="#00A1D5"/>
<line x1="567.03" x2="567.03" y1="221.9" y2="354" stroke="#B24745" stroke-width="1.5"/>
<path d="M567.03 215.9L570.13 221.9L563.93 221.9Z" fill="#B24745"/>
<line x1="564.79" x2="569.28" y1="354" y2="354" stroke="#B24745" stroke-width="1.5"/>
<circle cx="567.03" cy="319.1" r="3.05" fill="#B24745"/>
<line x1="576.02" x2="576.02" y1="221.9" y2="356.6" stroke="#374E55" stroke-width="1.5"/>
<path d="M576.02 215.9L579.12 221.9L572.92 221.9Z" fill="#374E55"/>
<line x1="573.77" x2="578.26" y1="356.6" y2="356.6" stroke="#374E55" stroke-width="1.5"/>
<circle cx="576.02" cy="339.7" r="3.05" fill="#374E55"/>
<line x1="620.94" x2="620.94" y1="221.9" y2="354.3" stroke="#DF8F44" stroke-width="1.5"/>
<path d="M620.94 215.9L624.04 221.9L617.84 221.9Z" fill="#DF8F44"/>
<line x1="618.7" x2="623.19" y1="354.3" y2="354.3" stroke="#DF8F44" stroke-width="1.5"/>
<circle cx="620.94" cy="317.9" r="3.05" fill="#DF8F44"/>
<line x1="629.93" x2="629.93" y1="221.9" y2="357" stroke="#00A1D5" stroke-width="1.5"/>
<path d="M629.93 215.9L633.03 221.9L626.83 221.9Z" fill="#00A1D5"/>
<line x1="627.68" x2="632.17" y1="357" y2="357" stroke="#00A1D5" stroke-width="1.5"/>
<circle cx="629.93" cy="340.9" r="3.05" fill="#00A1D5"/>
<line x1="638.91" x2="638.91" y1="221.9" y2="352.7" stroke="#B24745" stroke-width="1.5"/>
<path d="M638.91 215.9L642.01 221.9L635.81 221.9Z" fill="#B24745"/>
<line x1="636.67" x2="641.16" y1="352.7" y2="352.7" stroke="#B24745" stroke-width="1.5"/>
<line x1="647.9" x2="647.9" y1="221.9" y2="355.75" stroke="#374E55" stroke-width="1.5"/>
<path d="M647.9 215.9L651 221.9L644.8 221.9Z" fill="#374E55"/>
<line x1="645.65" x2="650.14" y1="355.75" y2="355.75" stroke="#374E55" stroke-width="1.5"/>
<circle cx="647.9" cy="285.6" r="3.05" fill="#374E55"/>
</g></svg>
<rect x="464.1" y="216.1" width="196.6" height="158.9" fill="none" stroke="#BBBBBB" stroke-width="1.1"/>
<line x1="50.6" x2="54.5" y1="368.3" y2="368.3" stroke="#BBBBBB" stroke-width="1.1"/>
<text transform="translate(47.5,372.7) scale(1,1.001)" text-anchor="end" fill="#4D4D4D" font-size="12.6">0</text>
<line x1="50.6" x2="54.5" y1="335.25" y2="335.25" stroke="#BBBBBB" stroke-width="1.1"/>
<text transform="translate(47.5,339.65) scale(1,1.001)" text-anchor="end" fill="#4D4D4D" font-size="12.6">500</text>
<line x1="50.6" x2="54.5" y1="302.2" y2="302.2" stroke="#BBBBBB" stroke-width="1.1"/>
<text transform="translate(47.5,306.6) scale(1,1.001)" text-anchor="end" fill="#4D4D4D" font-size="12.6">1000</text>
<line x1="50.6" x2="54.5" y1="269.15" y2="269.15" stroke="#BBBBBB" stroke-width="1.1"/>
<text transform="translate(47.5,273.55) scale(1,1.001)" text-anchor="end" fill="#4D4D4D" font-size="12.6">1500</text>
<line x1="50.6" x2="54.5" y1="236.1" y2="236.1" stroke="#BBBBBB" stroke-width="1.1"/>
<text transform="translate(47.5,240.5) scale(1,1.001)" text-anchor="end" fill="#4D4D4D" font-size="12.6">2000</text>
<line x1="81.45" x2="81.45" y1="375" y2="379" stroke="#BBBBBB" stroke-width="1.1"/>
<text transform="translate(81.45,391.3) scale(1,1.001)" text-anchor="middle" fill="#4D4D4D" font-size="12.6">40</text>
<line x1="152.97" x2="152.97" y1="375" y2="379" stroke="#BBBBBB" stroke-width="1.1"/>
<text transform="translate(152.97,391.3) scale(1,1.001)" text-anchor="middle" fill="#4D4D4D" font-size="12.6">60</text>
<line x1="224.49" x2="224.49" y1="375" y2="379" stroke="#BBBBBB" stroke-width="1.1"/>
<text transform="translate(224.49,391.3) scale(1,1.001)" text-anchor="middle" fill="#4D4D4D" font-size="12.6">80</text>
<line x1="281" x2="281" y1="375" y2="379" stroke="#BBBBBB" stroke-width="1.1"/>
<text transform="translate(281,391.3) scale(1,1.001)" text-anchor="middle" fill="#4D4D4D" font-size="12.6">20</text>
<line x1="332.16" x2="332.16" y1="375" y2="379" stroke="#BBBBBB" stroke-width="1.1"/>
<text transform="translate(332.16,391.3) scale(1,1.001)" text-anchor="middle" fill="#4D4D4D" font-size="12.6">40</text>
<line x1="383.32" x2="383.32" y1="375" y2="379" stroke="#BBBBBB" stroke-width="1.1"/>
<text transform="translate(383.32,391.3) scale(1,1.001)" text-anchor="middle" fill="#4D4D4D" font-size="12.6">60</text>
<line x1="434.48" x2="434.48" y1="375" y2="379" stroke="#BBBBBB" stroke-width="1.1"/>
<text transform="translate(434.48,391.3) scale(1,1.001)" text-anchor="middle" fill="#4D4D4D" font-size="12.6">80</text>
<line x1="490.66" x2="490.66" y1="375" y2="379" stroke="#BBBBBB" stroke-width="1.1"/>
<text transform="translate(490.66,391.3) scale(1,1.001)" text-anchor="middle" fill="#4D4D4D" font-size="12.6">20</text>
<line x1="562.54" x2="562.54" y1="375" y2="379" stroke="#BBBBBB" stroke-width="1.1"/>
<text transform="translate(562.54,391.3) scale(1,1.001)" text-anchor="middle" fill="#4D4D4D" font-size="12.6">40</text>
<line x1="634.42" x2="634.42" y1="375" y2="379" stroke="#BBBBBB" stroke-width="1.1"/>
<text transform="translate(634.42,391.3) scale(1,1.001)" text-anchor="middle" fill="#4D4D4D" font-size="12.6">60</text>
<rect x="47.6" y="452" width="199" height="23.8" fill="#B3B3B3"/>
<text transform="translate(146.6,468.15) scale(1,1.001)" text-anchor="middle" fill="#fff" font-size="12.4">ChAdOx1</text>
<rect x="254.9" y="452" width="198.8" height="23.8" fill="#B3B3B3"/>
<text transform="translate(353.8,468.15) scale(1,1.001)" text-anchor="middle" fill="#fff" font-size="12.4">BNT162b2</text>
<rect x="461.9" y="452" width="198.6" height="23.8" fill="#B3B3B3"/>
<text transform="translate(560.7,468.15) scale(1,1.001)" text-anchor="middle" fill="#fff" font-size="12.4">mRNA−1273</text>
<rect x="660.5" y="475.8" width="24.5" height="153.5" fill="#B3B3B3"/>
<text transform="translate(668.5,552.55) rotate(90) scale(1,1.001)" text-anchor="middle" fill="#fff" font-size="12.4">No LTHC</text>
<svg x="47.6" y="475.8" width="199" height="153.5" overflow="hidden"><g transform="translate(-47.6,-475.8)">
<rect x="47.6" y="475.8" width="199" height="153.5" fill="#fff"/>
<line x1="47.6" x2="246.6" y1="605" y2="605" stroke="#F1F1F1" stroke-width="1"/>
<line x1="47.6" x2="246.6" y1="570" y2="570" stroke="#F1F1F1" stroke-width="1"/>
<line x1="47.6" x2="246.6" y1="535" y2="535" stroke="#F1F1F1" stroke-width="1"/>
<line x1="47.6" x2="246.6" y1="500" y2="500" stroke="#F1F1F1" stroke-width="1"/>
<line x1="110.65" x2="110.65" y1="475.8" y2="629.3" stroke="#F1F1F1" stroke-width="1"/>
<line x1="183.15" x2="183.15" y1="475.8" y2="629.3" stroke="#F1F1F1" stroke-width="1"/>
<line x1="47.6" x2="246.6" y1="622.5" y2="622.5" stroke="#EBEBEB" stroke-width="1.1"/>
<line x1="47.6" x2="246.6" y1="587.5" y2="587.5" stroke="#EBEBEB" stroke-width="1.1"/>
<line x1="47.6" x2="246.6" y1="552.5" y2="552.5" stroke="#EBEBEB" stroke-width="1.1"/>
<line x1="47.6" x2="246.6" y1="517.5" y2="517.5" stroke="#EBEBEB" stroke-width="1.1"/>
<line x1="47.6" x2="246.6" y1="482.5" y2="482.5" stroke="#EBEBEB" stroke-width="1.1"/>
<line x1="74.4" x2="74.4" y1="475.8" y2="629.3" stroke="#EBEBEB" stroke-width="1.1"/>
<line x1="146.9" x2="146.9" y1="475.8" y2="629.3" stroke="#EBEBEB" stroke-width="1.1"/>
<line x1="219.4" x2="219.4" y1="475.8" y2="629.3" stroke="#EBEBEB" stroke-width="1.1"/>
<line x1="60.81" x2="60.81" y1="577.1" y2="598" stroke="#DF8F44" stroke-width="1.5"/>
<line x1="58.54" x2="63.07" y1="577.1" y2="577.1" stroke="#DF8F44" stroke-width="1.5"/>
<line x1="58.54" x2="63.07" y1="598" y2="598" stroke="#DF8F44" stroke-width="1.5"/>
<circle cx="60.81" cy="587.5" r="3.05" fill="#DF8F44"/>
<line x1="69.87" x2="69.87" y1="582.4" y2="601.2" stroke="#00A1D5" stroke-width="1.5"/>
<line x1="67.6" x2="72.13" y1="582.4" y2="582.4" stroke="#00A1D5" stroke-width="1.5"/>
<line x1="67.6" x2="72.13" y1="601.2" y2="601.2" stroke="#00A1D5" stroke-width="1.5"/>
<circle cx="69.87" cy="591.9" r="3.05" fill="#00A1D5"/>
<line x1="78.93" x2="78.93" y1="574.5" y2="593.9" stroke="#B24745" stroke-width="1.5"/>
<line x1="76.67" x2="81.2" y1="574.5" y2="574.5" stroke="#B24745" stroke-width="1.5"/>
<line x1="76.67" x2="81.2" y1="593.9" y2="593.9" stroke="#B24745" stroke-width="1.5"/>
<circle cx="78.93" cy="584.6" r="3.05" fill="#B24745"/>
<line x1="87.99" x2="87.99" y1="579.5" y2="597.2" stroke="#374E55" stroke-width="1.5"/>
<line x1="85.73" x2="90.26" y1="579.5" y2="579.5" stroke="#374E55" stroke-width="1.5"/>
<line x1="85.73" x2="90.26" y1="597.2" y2="597.2" stroke="#374E55" stroke-width="1.5"/>
<circle cx="87.99" cy="588.5" r="3.05" fill="#374E55"/>
<line x1="133.31" x2="133.31" y1="574.5" y2="597.8" stroke="#DF8F44" stroke-width="1.5"/>
<line x1="131.04" x2="135.57" y1="574.5" y2="574.5" stroke="#DF8F44" stroke-width="1.5"/>
<line x1="131.04" x2="135.57" y1="597.8" y2="597.8" stroke="#DF8F44" stroke-width="1.5"/>
<circle cx="133.31" cy="586.5" r="3.05" fill="#DF8F44"/>
<line x1="142.37" x2="142.37" y1="580.9" y2="601.9" stroke="#00A1D5" stroke-width="1.5"/>
<line x1="140.1" x2="144.63" y1="580.9" y2="580.9" stroke="#00A1D5" stroke-width="1.5"/>
<line x1="140.1" x2="144.63" y1="601.9" y2="601.9" stroke="#00A1D5" stroke-width="1.5"/>
<circle cx="142.37" cy="591.4" r="3.05" fill="#00A1D5"/>
<line x1="151.43" x2="151.43" y1="572.3" y2="593.8" stroke="#B24745" stroke-width="1.5"/>
<line x1="149.17" x2="153.7" y1="572.3" y2="572.3" stroke="#B24745" stroke-width="1.5"/>
<line x1="149.17" x2="153.7" y1="593.8" y2="593.8" stroke="#B24745" stroke-width="1.5"/>
<circle cx="151.43" cy="583.2" r="3.05" fill="#B24745"/>
<line x1="160.49" x2="160.49" y1="578" y2="597.1" stroke="#374E55" stroke-width="1.5"/>
<line x1="158.23" x2="162.76" y1="578" y2="578" stroke="#374E55" stroke-width="1.5"/>
<line x1="158.23" x2="162.76" y1="597.1" y2="597.1" stroke="#374E55" stroke-width="1.5"/>
<circle cx="160.49" cy="587.8" r="3.05" fill="#374E55"/>
<line x1="205.81" x2="205.81" y1="571.3" y2="598.5" stroke="#DF8F44" stroke-width="1.5"/>
<line x1="203.54" x2="208.07" y1="571.3" y2="571.3" stroke="#DF8F44" stroke-width="1.5"/>
<line x1="203.54" x2="208.07" y1="598.5" y2="598.5" stroke="#DF8F44" stroke-width="1.5"/>
<circle cx="205.81" cy="585.2" r="3.05" fill="#DF8F44"/>
<line x1="214.87" x2="214.87" y1="579.1" y2="602.7" stroke="#00A1D5" stroke-width="1.5"/>
<line x1="212.6" x2="217.13" y1="579.1" y2="579.1" stroke="#00A1D5" stroke-width="1.5"/>
<line x1="212.6" x2="217.13" y1="602.7" y2="602.7" stroke="#00A1D5" stroke-width="1.5"/>
<circle cx="214.87" cy="591" r="3.05" fill="#00A1D5"/>
<line x1="223.93" x2="223.93" y1="568.2" y2="593.6" stroke="#B24745" stroke-width="1.5"/>
<line x1="221.67" x2="226.2" y1="568.2" y2="568.2" stroke="#B24745" stroke-width="1.5"/>
<line x1="221.67" x2="226.2" y1="593.6" y2="593.6" stroke="#B24745" stroke-width="1.5"/>
<circle cx="223.93" cy="581.9" r="3.05" fill="#B24745"/>
<line x1="232.99" x2="232.99" y1="575.3" y2="597.2" stroke="#374E55" stroke-width="1.5"/>
<line x1="230.73" x2="235.26" y1="575.3" y2="575.3" stroke="#374E55" stroke-width="1.5"/>
<line x1="230.73" x2="235.26" y1="597.2" y2="597.2" stroke="#374E55" stroke-width="1.5"/>
<circle cx="232.99" cy="587" r="3.05" fill="#374E55"/>
</g></svg>
<rect x="47.6" y="475.8" width="199" height="153.5" fill="none" stroke="#BBBBBB" stroke-width="1.1"/>
<svg x="254.9" y="475.8" width="198.8" height="153.5" overflow="hidden"><g transform="translate(-254.9,-475.8)">
<rect x="254.9" y="475.8" width="198.8" height="153.5" fill="#fff"/>
<line x1="254.9" x2="453.7" y1="605" y2="605" stroke="#F1F1F1" stroke-width="1"/>
<line x1="254.9" x2="453.7" y1="570" y2="570" stroke="#F1F1F1" stroke-width="1"/>
<line x1="254.9" x2="453.7" y1="535" y2="535" stroke="#F1F1F1" stroke-width="1"/>
<line x1="254.9" x2="453.7" y1="500" y2="500" stroke="#F1F1F1" stroke-width="1"/>
<line x1="302.54" x2="302.54" y1="475.8" y2="629.3" stroke="#F1F1F1" stroke-width="1"/>
<line x1="354.42" x2="354.42" y1="475.8" y2="629.3" stroke="#F1F1F1" stroke-width="1"/>
<line x1="406.3" x2="406.3" y1="475.8" y2="629.3" stroke="#F1F1F1" stroke-width="1"/>
<line x1="254.9" x2="453.7" y1="622.5" y2="622.5" stroke="#EBEBEB" stroke-width="1.1"/>
<line x1="254.9" x2="453.7" y1="587.5" y2="587.5" stroke="#EBEBEB" stroke-width="1.1"/>
<line x1="254.9" x2="453.7" y1="552.5" y2="552.5" stroke="#EBEBEB" stroke-width="1.1"/>
<line x1="254.9" x2="453.7" y1="517.5" y2="517.5" stroke="#EBEBEB" stroke-width="1.1"/>
<line x1="254.9" x2="453.7" y1="482.5" y2="482.5" stroke="#EBEBEB" stroke-width="1.1"/>
<line x1="276.6" x2="276.6" y1="475.8" y2="629.3" stroke="#EBEBEB" stroke-width="1.1"/>
<line x1="328.48" x2="328.48" y1="475.8" y2="629.3" stroke="#EBEBEB" stroke-width="1.1"/>
<line x1="380.36" x2="380.36" y1="475.8" y2="629.3" stroke="#EBEBEB" stroke-width="1.1"/>
<line x1="432.24" x2="432.24" y1="475.8" y2="629.3" stroke="#EBEBEB" stroke-width="1.1"/>
<line x1="266.87" x2="266.87" y1="584" y2="599.8" stroke="#DF8F44" stroke-width="1.5"/>
<line x1="265.25" x2="268.49" y1="584" y2="584" stroke="#DF8F44" stroke-width="1.5"/>
<line x1="265.25" x2="268.49" y1="599.8" y2="599.8" stroke="#DF8F44" stroke-width="1.5"/>
<circle cx="266.87" cy="591.9" r="3.05" fill="#DF8F44"/>
<line x1="273.36" x2="273.36" y1="585.1" y2="600.8" stroke="#00A1D5" stroke-width="1.5"/>
<line x1="271.74" x2="274.98" y1="585.1" y2="585.1" stroke="#00A1D5" stroke-width="1.5"/>
<line x1="271.74" x2="274.98" y1="600.8" y2="600.8" stroke="#00A1D5" stroke-width="1.5"/>
<circle cx="273.36" cy="592.7" r="3.05" fill="#00A1D5"/>
<line x1="279.84" x2="279.84" y1="583.4" y2="598.7" stroke="#B24745" stroke-width="1.5"/>
<line x1="278.22" x2="281.46" y1="583.4" y2="583.4" stroke="#B24745" stroke-width="1.5"/>
<line x1="278.22" x2="281.46" y1="598.7" y2="598.7" stroke="#B24745" stroke-width="1.5"/>
<circle cx="279.84" cy="591.1" r="3.05" fill="#B24745"/>
<line x1="286.33" x2="286.33" y1="584.6" y2="600" stroke="#374E55" stroke-width="1.5"/>
<line x1="284.71" x2="287.95" y1="584.6" y2="584.6" stroke="#374E55" stroke-width="1.5"/>
<line x1="284.71" x2="287.95" y1="600" y2="600" stroke="#374E55" stroke-width="1.5"/>
<circle cx="286.33" cy="592.2" r="3.05" fill="#374E55"/>
<line x1="318.75" x2="318.75" y1="585.3" y2="601.8" stroke="#DF8F44" stroke-width="1.5"/>
<line x1="317.13" x2="320.37" y1="585.3" y2="585.3" stroke="#DF8F44" stroke-width="1.5"/>
<line x1="317.13" x2="320.37" y1="601.8" y2="601.8" stroke="#DF8F44" stroke-width="1.5"/>
<circle cx="318.75" cy="593.6" r="3.05" fill="#DF8F44"/>
<line x1="325.24" x2="325.24" y1="586.9" y2="603.3" stroke="#00A1D5" stroke-width="1.5"/>
<line x1="323.62" x2="326.86" y1="586.9" y2="586.9" stroke="#00A1D5" stroke-width="1.5"/>
<line x1="323.62" x2="326.86" y1="603.3" y2="603.3" stroke="#00A1D5" stroke-width="1.5"/>
<circle cx="325.24" cy="594.5" r="3.05" fill="#00A1D5"/>
<line x1="331.72" x2="331.72" y1="584.7" y2="601.2" stroke="#B24745" stroke-width="1.5"/>
<line x1="330.1" x2="333.34" y1="584.7" y2="584.7" stroke="#B24745" stroke-width="1.5"/>
<line x1="330.1" x2="333.34" y1="601.2" y2="601.2" stroke="#B24745" stroke-width="1.5"/>
<circle cx="331.72" cy="593.1" r="3.05" fill="#B24745"/>
<line x1="338.21" x2="338.21" y1="585.9" y2="602" stroke="#374E55" stroke-width="1.5"/>
<line x1="336.59" x2="339.83" y1="585.9" y2="585.9" stroke="#374E55" stroke-width="1.5"/>
<line x1="336.59" x2="339.83" y1="602" y2="602" stroke="#374E55" stroke-width="1.5"/>
<circle cx="338.21" cy="594" r="3.05" fill="#374E55"/>
<line x1="370.63" x2="370.63" y1="586.5" y2="604.9" stroke="#DF8F44" stroke-width="1.5"/>
<line x1="369.01" x2="372.25" y1="586.5" y2="586.5" stroke="#DF8F44" stroke-width="1.5"/>
<line x1="369.01" x2="372.25" y1="604.9" y2="604.9" stroke="#DF8F44" stroke-width="1.5"/>
<circle cx="370.63" cy="595.7" r="3.05" fill="#DF8F44"/>
<line x1="377.12" x2="377.12" y1="588.1" y2="605.9" stroke="#00A1D5" stroke-width="1.5"/>
<line x1="375.5" x2="378.74" y1="588.1" y2="588.1" stroke="#00A1D5" stroke-width="1.5"/>
<line x1="375.5" x2="378.74" y1="605.9" y2="605.9" stroke="#00A1D5" stroke-width="1.5"/>
<circle cx="377.12" cy="596.7" r="3.05" fill="#00A1D5"/>
<line x1="383.6" x2="383.6" y1="585.5" y2="603.9" stroke="#B24745" stroke-width="1.5"/>
<line x1="381.98" x2="385.22" y1="585.5" y2="585.5" stroke="#B24745" stroke-width="1.5"/>
<line x1="381.98" x2="385.22" y1="603.9" y2="603.9" stroke="#B24745" stroke-width="1.5"/>
<circle cx="383.6" cy="594.8" r="3.05" fill="#B24745"/>
<line x1="390.09" x2="390.09" y1="587.1" y2="604.9" stroke="#374E55" stroke-width="1.5"/>
<line x1="388.47" x2="391.71" y1="587.1" y2="587.1" stroke="#374E55" stroke-width="1.5"/>
<line x1="388.47" x2="391.71" y1="604.9" y2="604.9" stroke="#374E55" stroke-width="1.5"/>
<circle cx="390.09" cy="596" r="3.05" fill="#374E55"/>
<line x1="422.51" x2="422.51" y1="588.2" y2="608.5" stroke="#DF8F44" stroke-width="1.5"/>
<line x1="420.89" x2="424.13" y1="588.2" y2="588.2" stroke="#DF8F44" stroke-width="1.5"/>
<line x1="420.89" x2="424.13" y1="608.5" y2="608.5" stroke="#DF8F44" stroke-width="1.5"/>
<circle cx="422.51" cy="598.5" r="3.05" fill="#DF8F44"/>
<line x1="429" x2="429" y1="589.9" y2="609.8" stroke="#00A1D5" stroke-width="1.5"/>
<line x1="427.38" x2="430.62" y1="589.9" y2="589.9" stroke="#00A1D5" stroke-width="1.5"/>
<line x1="427.38" x2="430.62" y1="609.8" y2="609.8" stroke="#00A1D5" stroke-width="1.5"/>
<circle cx="429" cy="599.5" r="3.05" fill="#00A1D5"/>
<line x1="435.48" x2="435.48" y1="586.9" y2="606.9" stroke="#B24745" stroke-width="1.5"/>
<line x1="433.86" x2="437.1" y1="586.9" y2="586.9" stroke="#B24745" stroke-width="1.5"/>
<line x1="433.86" x2="437.1" y1="606.9" y2="606.9" stroke="#B24745" stroke-width="1.5"/>
<circle cx="435.48" cy="597.4" r="3.05" fill="#B24745"/>
<line x1="441.97" x2="441.97" y1="588.6" y2="607.7" stroke="#374E55" stroke-width="1.5"/>
<line x1="440.35" x2="443.59" y1="588.6" y2="588.6" stroke="#374E55" stroke-width="1.5"/>
<line x1="440.35" x2="443.59" y1="607.7" y2="607.7" stroke="#374E55" stroke-width="1.5"/>
<circle cx="441.97" cy="598.5" r="3.05" fill="#374E55"/>
</g></svg>
<rect x="254.9" y="475.8" width="198.8" height="153.5" fill="none" stroke="#BBBBBB" stroke-width="1.1"/>
<svg x="461.9" y="475.8" width="198.6" height="153.5" overflow="hidden"><g transform="translate(-461.9,-475.8)">
<rect x="461.9" y="475.8" width="198.6" height="153.5" fill="#fff"/>
<line x1="461.9" x2="660.5" y1="605" y2="605" stroke="#F1F1F1" stroke-width="1"/>
<line x1="461.9" x2="660.5" y1="570" y2="570" stroke="#F1F1F1" stroke-width="1"/>
<line x1="461.9" x2="660.5" y1="535" y2="535" stroke="#F1F1F1" stroke-width="1"/>
<line x1="461.9" x2="660.5" y1="500" y2="500" stroke="#F1F1F1" stroke-width="1"/>
<line x1="525" x2="525" y1="475.8" y2="629.3" stroke="#F1F1F1" stroke-width="1"/>
<line x1="597.2" x2="597.2" y1="475.8" y2="629.3" stroke="#F1F1F1" stroke-width="1"/>
<line x1="461.9" x2="660.5" y1="622.5" y2="622.5" stroke="#EBEBEB" stroke-width="1.1"/>
<line x1="461.9" x2="660.5" y1="587.5" y2="587.5" stroke="#EBEBEB" stroke-width="1.1"/>
<line x1="461.9" x2="660.5" y1="552.5" y2="552.5" stroke="#EBEBEB" stroke-width="1.1"/>
<line x1="461.9" x2="660.5" y1="517.5" y2="517.5" stroke="#EBEBEB" stroke-width="1.1"/>
<line x1="461.9" x2="660.5" y1="482.5" y2="482.5" stroke="#EBEBEB" stroke-width="1.1"/>
<line x1="488.9" x2="488.9" y1="475.8" y2="629.3" stroke="#EBEBEB" stroke-width="1.1"/>
<line x1="561.1" x2="561.1" y1="475.8" y2="629.3" stroke="#EBEBEB" stroke-width="1.1"/>
<line x1="633.3" x2="633.3" y1="475.8" y2="629.3" stroke="#EBEBEB" stroke-width="1.1"/>
<line x1="475.36" x2="475.36" y1="563.3" y2="597.1" stroke="#DF8F44" stroke-width="1.5"/>
<line x1="473.11" x2="477.62" y1="563.3" y2="563.3" stroke="#DF8F44" stroke-width="1.5"/>
<line x1="473.11" x2="477.62" y1="597.1" y2="597.1" stroke="#DF8F44" stroke-width="1.5"/>
<circle cx="475.36" cy="584.5" r="3.05" fill="#DF8F44"/>
<line x1="484.39" x2="484.39" y1="576.4" y2="601.2" stroke="#00A1D5" stroke-width="1.5"/>
<line x1="482.13" x2="486.64" y1="576.4" y2="576.4" stroke="#00A1D5" stroke-width="1.5"/>
<line x1="482.13" x2="486.64" y1="601.2" y2="601.2" stroke="#00A1D5" stroke-width="1.5"/>
<circle cx="484.39" cy="590.9" r="3.05" fill="#00A1D5"/>
<line x1="493.41" x2="493.41" y1="481.6" y2="595.3" stroke="#B24745" stroke-width="1.5"/>
<path d="M493.41 475.6L496.51 481.6L490.31 481.6Z" fill="#B24745"/>
<line x1="491.16" x2="495.67" y1="595.3" y2="595.3" stroke="#B24745" stroke-width="1.5"/>
<circle cx="493.41" cy="572.4" r="3.05" fill="#B24745"/>
<line x1="502.44" x2="502.44" y1="498.3" y2="599.1" stroke="#374E55" stroke-width="1.5"/>
<line x1="500.18" x2="504.69" y1="498.3" y2="498.3" stroke="#374E55" stroke-width="1.5"/>
<line x1="500.18" x2="504.69" y1="599.1" y2="599.1" stroke="#374E55" stroke-width="1.5"/>
<circle cx="502.44" cy="583.3" r="3.05" fill="#374E55"/>
<line x1="547.56" x2="547.56" y1="549.1" y2="593.1" stroke="#DF8F44" stroke-width="1.5"/>
<line x1="545.31" x2="549.82" y1="549.1" y2="549.1" stroke="#DF8F44" stroke-width="1.5"/>
<line x1="545.31" x2="549.82" y1="593.1" y2="593.1" stroke="#DF8F44" stroke-width="1.5"/>
<circle cx="547.56" cy="575.5" r="3.05" fill="#DF8F44"/>
<line x1="556.59" x2="556.59" y1="569.3" y2="599.5" stroke="#00A1D5" stroke-width="1.5"/>
<line x1="554.33" x2="558.84" y1="569.3" y2="569.3" stroke="#00A1D5" stroke-width="1.5"/>
<line x1="554.33" x2="558.84" y1="599.5" y2="599.5" stroke="#00A1D5" stroke-width="1.5"/>
<circle cx="556.59" cy="586.2" r="3.05" fill="#00A1D5"/>
<line x1="565.61" x2="565.61" y1="481.6" y2="591" stroke="#B24745" stroke-width="1.5"/>
<path d="M565.61 475.6L568.71 481.6L562.51 481.6Z" fill="#B24745"/>
<line x1="563.36" x2="567.87" y1="591" y2="591" stroke="#B24745" stroke-width="1.5"/>
<circle cx="565.61" cy="547.9" r="3.05" fill="#B24745"/>
<line x1="574.64" x2="574.64" y1="521.6" y2="597.1" stroke="#374E55" stroke-width="1.5"/>
<line x1="572.38" x2="576.89" y1="521.6" y2="521.6" stroke="#374E55" stroke-width="1.5"/>
<line x1="572.38" x2="576.89" y1="597.1" y2="597.1" stroke="#374E55" stroke-width="1.5"/>
<circle cx="574.64" cy="572.4" r="3.05" fill="#374E55"/>
<line x1="619.76" x2="619.76" y1="481.6" y2="590.9" stroke="#DF8F44" stroke-width="1.5"/>
<path d="M619.76 475.6L622.86 481.6L616.66 481.6Z" fill="#DF8F44"/>
<line x1="617.51" x2="622.02" y1="590.9" y2="590.9" stroke="#DF8F44" stroke-width="1.5"/>
<circle cx="619.76" cy="550.3" r="3.05" fill="#DF8F44"/>
<line x1="628.79" x2="628.79" y1="481.6" y2="598.6" stroke="#00A1D5" stroke-width="1.5"/>
<path d="M628.79 475.6L631.89 481.6L625.69 481.6Z" fill="#00A1D5"/>
<line x1="626.53" x2="631.04" y1="598.6" y2="598.6" stroke="#00A1D5" stroke-width="1.5"/>
<circle cx="628.79" cy="576.2" r="3.05" fill="#00A1D5"/>
<line x1="637.81" x2="637.81" y1="481.6" y2="587.4" stroke="#B24745" stroke-width="1.5"/>
<path d="M637.81 475.6L640.91 481.6L634.71 481.6Z" fill="#B24745"/>
<line x1="635.56" x2="640.07" y1="587.4" y2="587.4" stroke="#B24745" stroke-width="1.5"/>
<line x1="646.84" x2="646.84" y1="481.6" y2="597.1" stroke="#374E55" stroke-width="1.5"/>
<path d="M646.84 475.6L649.94 481.6L643.74 481.6Z" fill="#374E55"/>
<line x1="644.58" x2="649.09" y1="597.1" y2="597.1" stroke="#374E55" stroke-width="1.5"/>
<circle cx="646.84" cy="530.2" r="3.05" fill="#374E55"/>
</g></svg>
<rect x="461.9" y="475.8" width="198.6" height="153.5" fill="none" stroke="#BBBBBB" stroke-width="1.1"/>
<line x1="43.7" x2="47.6" y1="622.5" y2="622.5" stroke="#BBBBBB" stroke-width="1.1"/>
<text transform="translate(40.6,626.9) scale(1,1.001)" text-anchor="end" fill="#4D4D4D" font-size="12.6">0</text>
<line x1="43.7" x2="47.6" y1="587.5" y2="587.5" stroke="#BBBBBB" stroke-width="1.1"/>
<text transform="translate(40.6,591.9) scale(1,1.001)" text-anchor="end" fill="#4D4D4D" font-size="12.6">200</text>
<line x1="43.7" x2="47.6" y1="552.5" y2="552.5" stroke="#BBBBBB" stroke-width="1.1"/>
<text transform="translate(40.6,556.9) scale(1,1.001)" text-anchor="end" fill="#4D4D4D" font-size="12.6">400</text>
<line x1="43.7" x2="47.6" y1="517.5" y2="517.5" stroke="#BBBBBB" stroke-width="1.1"/>
<text transform="translate(40.6,521.9) scale(1,1.001)" text-anchor="end" fill="#4D4D4D" font-size="12.6">600</text>
<line x1="43.7" x2="47.6" y1="482.5" y2="482.5" stroke="#BBBBBB" stroke-width="1.1"/>
<text transform="translate(40.6,486.9) scale(1,1.001)" text-anchor="end" fill="#4D4D4D" font-size="12.6">800</text>
<rect x="660.5" y="637.5" width="24.5" height="153" fill="#B3B3B3"/>
<text transform="translate(668.5,714) rotate(90) scale(1,1.001)" text-anchor="middle" fill="#fff" font-size="12.4">LTHC</text>
<svg x="47.6" y="637.5" width="199" height="153" overflow="hidden"><g transform="translate(-47.6,-637.5)">
<rect x="47.6" y="637.5" width="199" height="153" fill="#fff"/>
<line x1="47.6" x2="246.6" y1="766.8" y2="766.8" stroke="#F1F1F1" stroke-width="1"/>
<line x1="47.6" x2="246.6" y1="731.8" y2="731.8" stroke="#F1F1F1" stroke-width="1"/>
<line x1="47.6" x2="246.6" y1="696.8" y2="696.8" stroke="#F1F1F1" stroke-width="1"/>
<line x1="47.6" x2="246.6" y1="661.8" y2="661.8" stroke="#F1F1F1" stroke-width="1"/>
<line x1="110.65" x2="110.65" y1="637.5" y2="790.5" stroke="#F1F1F1" stroke-width="1"/>
<line x1="183.15" x2="183.15" y1="637.5" y2="790.5" stroke="#F1F1F1" stroke-width="1"/>
<line x1="47.6" x2="246.6" y1="784.3" y2="784.3" stroke="#EBEBEB" stroke-width="1.1"/>
<line x1="47.6" x2="246.6" y1="749.3" y2="749.3" stroke="#EBEBEB" stroke-width="1.1"/>
<line x1="47.6" x2="246.6" y1="714.3" y2="714.3" stroke="#EBEBEB" stroke-width="1.1"/>
<line x1="47.6" x2="246.6" y1="679.3" y2="679.3" stroke="#EBEBEB" stroke-width="1.1"/>
<line x1="47.6" x2="246.6" y1="644.3" y2="644.3" stroke="#EBEBEB" stroke-width="1.1"/>
<line x1="74.4" x2="74.4" y1="637.5" y2="790.5" stroke="#EBEBEB" stroke-width="1.1"/>
<line x1="146.9" x2="146.9" y1="637.5" y2="790.5" stroke="#EBEBEB" stroke-width="1.1"/>
<line x1="219.4" x2="219.4" y1="637.5" y2="790.5" stroke="#EBEBEB" stroke-width="1.1"/>
<line x1="60.81" x2="60.81" y1="741.1" y2="761.3" stroke="#DF8F44" stroke-width="1.5"/>
<line x1="58.54" x2="63.07" y1="741.1" y2="741.1" stroke="#DF8F44" stroke-width="1.5"/>
<line x1="58.54" x2="63.07" y1="761.3" y2="761.3" stroke="#DF8F44" stroke-width="1.5"/>
<circle cx="60.81" cy="751.4" r="3.05" fill="#DF8F44"/>
<line x1="69.87" x2="69.87" y1="746.1" y2="764.6" stroke="#00A1D5" stroke-width="1.5"/>
<line x1="67.6" x2="72.13" y1="746.1" y2="746.1" stroke="#00A1D5" stroke-width="1.5"/>
<line x1="67.6" x2="72.13" y1="764.6" y2="764.6" stroke="#00A1D5" stroke-width="1.5"/>
<circle cx="69.87" cy="755.6" r="3.05" fill="#00A1D5"/>
<line x1="78.93" x2="78.93" y1="738.3" y2="756.9" stroke="#B24745" stroke-width="1.5"/>
<line x1="76.67" x2="81.2" y1="738.3" y2="738.3" stroke="#B24745" stroke-width="1.5"/>
<line x1="76.67" x2="81.2" y1="756.9" y2="756.9" stroke="#B24745" stroke-width="1.5"/>
<circle cx="78.93" cy="748.4" r="3.05" fill="#B24745"/>
<line x1="87.99" x2="87.99" y1="743" y2="760.2" stroke="#374E55" stroke-width="1.5"/>
<line x1="85.73" x2="90.26" y1="743" y2="743" stroke="#374E55" stroke-width="1.5"/>
<line x1="85.73" x2="90.26" y1="760.2" y2="760.2" stroke="#374E55" stroke-width="1.5"/>
<circle cx="87.99" cy="751.9" r="3.05" fill="#374E55"/>
<line x1="133.31" x2="133.31" y1="739.1" y2="761.9" stroke="#DF8F44" stroke-width="1.5"/>
<line x1="131.04" x2="135.57" y1="739.1" y2="739.1" stroke="#DF8F44" stroke-width="1.5"/>
<line x1="131.04" x2="135.57" y1="761.9" y2="761.9" stroke="#DF8F44" stroke-width="1.5"/>
<circle cx="133.31" cy="750.8" r="3.05" fill="#DF8F44"/>
<line x1="142.37" x2="142.37" y1="744.6" y2="765.2" stroke="#00A1D5" stroke-width="1.5"/>
<line x1="140.1" x2="144.63" y1="744.6" y2="744.6" stroke="#00A1D5" stroke-width="1.5"/>
<line x1="140.1" x2="144.63" y1="765.2" y2="765.2" stroke="#00A1D5" stroke-width="1.5"/>
<circle cx="142.37" cy="755.2" r="3.05" fill="#00A1D5"/>
<line x1="151.43" x2="151.43" y1="736" y2="757.4" stroke="#B24745" stroke-width="1.5"/>
<line x1="149.17" x2="153.7" y1="736" y2="736" stroke="#B24745" stroke-width="1.5"/>
<line x1="149.17" x2="153.7" y1="757.4" y2="757.4" stroke="#B24745" stroke-width="1.5"/>
<circle cx="151.43" cy="747.2" r="3.05" fill="#B24745"/>
<line x1="160.49" x2="160.49" y1="741.7" y2="760.1" stroke="#374E55" stroke-width="1.5"/>
<line x1="158.23" x2="162.76" y1="741.7" y2="741.7" stroke="#374E55" stroke-width="1.5"/>
<line x1="158.23" x2="162.76" y1="760.1" y2="760.1" stroke="#374E55" stroke-width="1.5"/>
<circle cx="160.49" cy="751.3" r="3.05" fill="#374E55"/>
<line x1="205.81" x2="205.81" y1="736.3" y2="762.1" stroke="#DF8F44" stroke-width="1.5"/>
<line x1="203.54" x2="208.07" y1="736.3" y2="736.3" stroke="#DF8F44" stroke-width="1.5"/>
<line x1="203.54" x2="208.07" y1="762.1" y2="762.1" stroke="#DF8F44" stroke-width="1.5"/>
<circle cx="205.81" cy="749.7" r="3.05" fill="#DF8F44"/>
<line x1="214.87" x2="214.87" y1="743.1" y2="766.2" stroke="#00A1D5" stroke-width="1.5"/>
<line x1="212.6" x2="217.13" y1="743.1" y2="743.1" stroke="#00A1D5" stroke-width="1.5"/>
<line x1="212.6" x2="217.13" y1="766.2" y2="766.2" stroke="#00A1D5" stroke-width="1.5"/>
<circle cx="214.87" cy="754.8" r="3.05" fill="#00A1D5"/>
<line x1="223.93" x2="223.93" y1="732.9" y2="757.1" stroke="#B24745" stroke-width="1.5"/>
<line x1="221.67" x2="226.2" y1="732.9" y2="732.9" stroke="#B24745" stroke-width="1.5"/>
<line x1="221.67" x2="226.2" y1="757.1" y2="757.1" stroke="#B24745" stroke-width="1.5"/>
<circle cx="223.93" cy="746" r="3.05" fill="#B24745"/>
<line x1="232.99" x2="232.99" y1="739.6" y2="760.5" stroke="#374E55" stroke-width="1.5"/>
<line x1="230.73" x2="235.26" y1="739.6" y2="739.6" stroke="#374E55" stroke-width="1.5"/>
<line x1="230.73" x2="235.26" y1="760.5" y2="760.5" stroke="#374E55" stroke-width="1.5"/>
<circle cx="232.99" cy="750.5" r="3.05" fill="#374E55"/>
</g></svg>
<rect x="47.6" y="637.5" width="199" height="153" fill="none" stroke="#BBBBBB" stroke-width="1.1"/>
<svg x="254.9" y="637.5" width="198.8" height="153" overflow="hidden"><g transform="translate(-254.9,-637.5)">
<rect x="254.9" y="637.5" width="198.8" height="153" fill="#fff"/>
<line x1="254.9" x2="453.7" y1="766.8" y2="766.8" stroke="#F1F1F1" stroke-width="1"/>
<line x1="254.9" x2="453.7" y1="731.8" y2="731.8" stroke="#F1F1F1" stroke-width="1"/>
<line x1="254.9" x2="453.7" y1="696.8" y2="696.8" stroke="#F1F1F1" stroke-width="1"/>
<line x1="254.9" x2="453.7" y1="661.8" y2="661.8" stroke="#F1F1F1" stroke-width="1"/>
<line x1="302.54" x2="302.54" y1="637.5" y2="790.5" stroke="#F1F1F1" stroke-width="1"/>
<line x1="354.42" x2="354.42" y1="637.5" y2="790.5" stroke="#F1F1F1" stroke-width="1"/>
<line x1="406.3" x2="406.3" y1="637.5" y2="790.5" stroke="#F1F1F1" stroke-width="1"/>
<line x1="254.9" x2="453.7" y1="784.3" y2="784.3" stroke="#EBEBEB" stroke-width="1.1"/>
<line x1="254.9" x2="453.7" y1="749.3" y2="749.3" stroke="#EBEBEB" stroke-width="1.1"/>
<line x1="254.9" x2="453.7" y1="714.3" y2="714.3" stroke="#EBEBEB" stroke-width="1.1"/>
<line x1="254.9" x2="453.7" y1="679.3" y2="679.3" stroke="#EBEBEB" stroke-width="1.1"/>
<line x1="254.9" x2="453.7" y1="644.3" y2="644.3" stroke="#EBEBEB" stroke-width="1.1"/>
<line x1="276.6" x2="276.6" y1="637.5" y2="790.5" stroke="#EBEBEB" stroke-width="1.1"/>
<line x1="328.48" x2="328.48" y1="637.5" y2="790.5" stroke="#EBEBEB" stroke-width="1.1"/>
<line x1="380.36" x2="380.36" y1="637.5" y2="790.5" stroke="#EBEBEB" stroke-width="1.1"/>
<line x1="432.24" x2="432.24" y1="637.5" y2="790.5" stroke="#EBEBEB" stroke-width="1.1"/>
<line x1="266.87" x2="266.87" y1="746.6" y2="762.4" stroke="#DF8F44" stroke-width="1.5"/>
<line x1="265.25" x2="268.49" y1="746.6" y2="746.6" stroke="#DF8F44" stroke-width="1.5"/>
<line x1="265.25" x2="268.49" y1="762.4" y2="762.4" stroke="#DF8F44" stroke-width="1.5"/>
<circle cx="266.87" cy="754.7" r="3.05" fill="#DF8F44"/>
<line x1="273.36" x2="273.36" y1="747.6" y2="763.5" stroke="#00A1D5" stroke-width="1.5"/>
<line x1="271.74" x2="274.98" y1="747.6" y2="747.6" stroke="#00A1D5" stroke-width="1.5"/>
<line x1="271.74" x2="274.98" y1="763.5" y2="763.5" stroke="#00A1D5" stroke-width="1.5"/>
<circle cx="273.36" cy="755.4" r="3.05" fill="#00A1D5"/>
<line x1="279.84" x2="279.84" y1="745.8" y2="761.6" stroke="#B24745" stroke-width="1.5"/>
<line x1="278.22" x2="281.46" y1="745.8" y2="745.8" stroke="#B24745" stroke-width="1.5"/>
<line x1="278.22" x2="281.46" y1="761.6" y2="761.6" stroke="#B24745" stroke-width="1.5"/>
<circle cx="279.84" cy="754.3" r="3.05" fill="#B24745"/>
<line x1="286.33" x2="286.33" y1="747" y2="762.4" stroke="#374E55" stroke-width="1.5"/>
<line x1="284.71" x2="287.95" y1="747" y2="747" stroke="#374E55" stroke-width="1.5"/>
<line x1="284.71" x2="287.95" y1="762.4" y2="762.4" stroke="#374E55" stroke-width="1.5"/>
<circle cx="286.33" cy="754.9" r="3.05" fill="#374E55"/>
<line x1="318.75" x2="318.75" y1="748" y2="764.9" stroke="#DF8F44" stroke-width="1.5"/>
<line x1="317.13" x2="320.37" y1="748" y2="748" stroke="#DF8F44" stroke-width="1.5"/>
<line x1="317.13" x2="320.37" y1="764.9" y2="764.9" stroke="#DF8F44" stroke-width="1.5"/>
<circle cx="318.75" cy="756.5" r="3.05" fill="#DF8F44"/>
<line x1="325.24" x2="325.24" y1="749.1" y2="765.8" stroke="#00A1D5" stroke-width="1.5"/>
<line x1="323.62" x2="326.86" y1="749.1" y2="749.1" stroke="#00A1D5" stroke-width="1.5"/>
<line x1="323.62" x2="326.86" y1="765.8" y2="765.8" stroke="#00A1D5" stroke-width="1.5"/>
<circle cx="325.24" cy="757.3" r="3.05" fill="#00A1D5"/>
<line x1="331.72" x2="331.72" y1="747.1" y2="763.9" stroke="#B24745" stroke-width="1.5"/>
<line x1="330.1" x2="333.34" y1="747.1" y2="747.1" stroke="#B24745" stroke-width="1.5"/>
<line x1="330.1" x2="333.34" y1="763.9" y2="763.9" stroke="#B24745" stroke-width="1.5"/>
<circle cx="331.72" cy="755.7" r="3.05" fill="#B24745"/>
<line x1="338.21" x2="338.21" y1="748.7" y2="764.5" stroke="#374E55" stroke-width="1.5"/>
<line x1="336.59" x2="339.83" y1="748.7" y2="748.7" stroke="#374E55" stroke-width="1.5"/>
<line x1="336.59" x2="339.83" y1="764.5" y2="764.5" stroke="#374E55" stroke-width="1.5"/>
<circle cx="338.21" cy="756.5" r="3.05" fill="#374E55"/>
<line x1="370.63" x2="370.63" y1="749.6" y2="767.8" stroke="#DF8F44" stroke-width="1.5"/>
<line x1="369.01" x2="372.25" y1="749.6" y2="749.6" stroke="#DF8F44" stroke-width="1.5"/>
<line x1="369.01" x2="372.25" y1="767.8" y2="767.8" stroke="#DF8F44" stroke-width="1.5"/>
<circle cx="370.63" cy="758.6" r="3.05" fill="#DF8F44"/>
<line x1="377.12" x2="377.12" y1="750.6" y2="768.9" stroke="#00A1D5" stroke-width="1.5"/>
<line x1="375.5" x2="378.74" y1="750.6" y2="750.6" stroke="#00A1D5" stroke-width="1.5"/>
<line x1="375.5" x2="378.74" y1="768.9" y2="768.9" stroke="#00A1D5" stroke-width="1.5"/>
<circle cx="377.12" cy="759.6" r="3.05" fill="#00A1D5"/>
<line x1="383.6" x2="383.6" y1="748.7" y2="766.4" stroke="#B24745" stroke-width="1.5"/>
<line x1="381.98" x2="385.22" y1="748.7" y2="748.7" stroke="#B24745" stroke-width="1.5"/>
<line x1="381.98" x2="385.22" y1="766.4" y2="766.4" stroke="#B24745" stroke-width="1.5"/>
<circle cx="383.6" cy="757.8" r="3.05" fill="#B24745"/>
<line x1="390.09" x2="390.09" y1="749.6" y2="767.4" stroke="#374E55" stroke-width="1.5"/>
<line x1="388.47" x2="391.71" y1="749.6" y2="749.6" stroke="#374E55" stroke-width="1.5"/>
<line x1="388.47" x2="391.71" y1="767.4" y2="767.4" stroke="#374E55" stroke-width="1.5"/>
<circle cx="390.09" cy="758.8" r="3.05" fill="#374E55"/>
<line x1="422.51" x2="422.51" y1="751.5" y2="771.5" stroke="#DF8F44" stroke-width="1.5"/>
<line x1="420.89" x2="424.13" y1="751.5" y2="751.5" stroke="#DF8F44" stroke-width="1.5"/>
<line x1="420.89" x2="424.13" y1="771.5" y2="771.5" stroke="#DF8F44" stroke-width="1.5"/>
<circle cx="422.51" cy="761.6" r="3.05" fill="#DF8F44"/>
<line x1="429" x2="429" y1="752.8" y2="772.8" stroke="#00A1D5" stroke-width="1.5"/>
<line x1="427.38" x2="430.62" y1="752.8" y2="752.8" stroke="#00A1D5" stroke-width="1.5"/>
<line x1="427.38" x2="430.62" y1="772.8" y2="772.8" stroke="#00A1D5" stroke-width="1.5"/>
<circle cx="429" cy="762.6" r="3.05" fill="#00A1D5"/>
<line x1="435.48" x2="435.48" y1="750.2" y2="769.9" stroke="#B24745" stroke-width="1.5"/>
<line x1="433.86" x2="437.1" y1="750.2" y2="750.2" stroke="#B24745" stroke-width="1.5"/>
<line x1="433.86" x2="437.1" y1="769.9" y2="769.9" stroke="#B24745" stroke-width="1.5"/>
<circle cx="435.48" cy="760.1" r="3.05" fill="#B24745"/>
<line x1="441.97" x2="441.97" y1="751.6" y2="770.5" stroke="#374E55" stroke-width="1.5"/>
<line x1="440.35" x2="443.59" y1="751.6" y2="751.6" stroke="#374E55" stroke-width="1.5"/>
<line x1="440.35" x2="443.59" y1="770.5" y2="770.5" stroke="#374E55" stroke-width="1.5"/>
<circle cx="441.97" cy="761.3" r="3.05" fill="#374E55"/>
</g></svg>
<rect x="254.9" y="637.5" width="198.8" height="153" fill="none" stroke="#BBBBBB" stroke-width="1.1"/>
<svg x="461.9" y="637.5" width="198.6" height="153" overflow="hidden"><g transform="translate(-461.9,-637.5)">
<rect x="461.9" y="637.5" width="198.6" height="153" fill="#fff"/>
<line x1="461.9" x2="660.5" y1="766.8" y2="766.8" stroke="#F1F1F1" stroke-width="1"/>
<line x1="461.9" x2="660.5" y1="731.8" y2="731.8" stroke="#F1F1F1" stroke-width="1"/>
<line x1="461.9" x2="660.5" y1="696.8" y2="696.8" stroke="#F1F1F1" stroke-width="1"/>
<line x1="461.9" x2="660.5" y1="661.8" y2="661.8" stroke="#F1F1F1" stroke-width="1"/>
<line x1="525" x2="525" y1="637.5" y2="790.5" stroke="#F1F1F1" stroke-width="1"/>
<line x1="597.2" x2="597.2" y1="637.5" y2="790.5" stroke="#F1F1F1" stroke-width="1"/>
<line x1="461.9" x2="660.5" y1="784.3" y2="784.3" stroke="#EBEBEB" stroke-width="1.1"/>
<line x1="461.9" x2="660.5" y1="749.3" y2="749.3" stroke="#EBEBEB" stroke-width="1.1"/>
<line x1="461.9" x2="660.5" y1="714.3" y2="714.3" stroke="#EBEBEB" stroke-width="1.1"/>
<line x1="461.9" x2="660.5" y1="679.3" y2="679.3" stroke="#EBEBEB" stroke-width="1.1"/>
<line x1="461.9" x2="660.5" y1="644.3" y2="644.3" stroke="#EBEBEB" stroke-width="1.1"/>
<line x1="488.9" x2="488.9" y1="637.5" y2="790.5" stroke="#EBEBEB" stroke-width="1.1"/>
<line x1="561.1" x2="561.1" y1="637.5" y2="790.5" stroke="#EBEBEB" stroke-width="1.1"/>
<line x1="633.3" x2="633.3" y1="637.5" y2="790.5" stroke="#EBEBEB" stroke-width="1.1"/>
<line x1="475.36" x2="475.36" y1="738.2" y2="763.6" stroke="#DF8F44" stroke-width="1.5"/>
<line x1="473.11" x2="477.62" y1="738.2" y2="738.2" stroke="#DF8F44" stroke-width="1.5"/>
<line x1="473.11" x2="477.62" y1="763.6" y2="763.6" stroke="#DF8F44" stroke-width="1.5"/>
<circle cx="475.36" cy="754.4" r="3.05" fill="#DF8F44"/>
<line x1="484.39" x2="484.39" y1="746" y2="765.7" stroke="#00A1D5" stroke-width="1.5"/>
<line x1="482.13" x2="486.64" y1="746" y2="746" stroke="#00A1D5" stroke-width="1.5"/>
<line x1="482.13" x2="486.64" y1="765.7" y2="765.7" stroke="#00A1D5" stroke-width="1.5"/>
<circle cx="484.39" cy="758.4" r="3.05" fill="#00A1D5"/>
<line x1="493.41" x2="493.41" y1="682.9" y2="762.4" stroke="#B24745" stroke-width="1.5"/>
<line x1="491.16" x2="495.67" y1="682.9" y2="682.9" stroke="#B24745" stroke-width="1.5"/>
<line x1="491.16" x2="495.67" y1="762.4" y2="762.4" stroke="#B24745" stroke-width="1.5"/>
<circle cx="493.41" cy="748.6" r="3.05" fill="#B24745"/>
<line x1="502.44" x2="502.44" y1="717.6" y2="765" stroke="#374E55" stroke-width="1.5"/>
<line x1="500.18" x2="504.69" y1="717.6" y2="717.6" stroke="#374E55" stroke-width="1.5"/>
<line x1="500.18" x2="504.69" y1="765" y2="765" stroke="#374E55" stroke-width="1.5"/>
<circle cx="502.44" cy="754.1" r="3.05" fill="#374E55"/>
<line x1="547.56" x2="547.56" y1="730.8" y2="763.2" stroke="#DF8F44" stroke-width="1.5"/>
<line x1="545.31" x2="549.82" y1="730.8" y2="730.8" stroke="#DF8F44" stroke-width="1.5"/>
<line x1="545.31" x2="549.82" y1="763.2" y2="763.2" stroke="#DF8F44" stroke-width="1.5"/>
<circle cx="547.56" cy="751" r="3.05" fill="#DF8F44"/>
<line x1="556.59" x2="556.59" y1="741.5" y2="766.5" stroke="#00A1D5" stroke-width="1.5"/>
<line x1="554.33" x2="558.84" y1="741.5" y2="741.5" stroke="#00A1D5" stroke-width="1.5"/>
<line x1="554.33" x2="558.84" y1="766.5" y2="766.5" stroke="#00A1D5" stroke-width="1.5"/>
<circle cx="556.59" cy="756.7" r="3.05" fill="#00A1D5"/>
<line x1="565.61" x2="565.61" y1="643.3" y2="761" stroke="#B24745" stroke-width="1.5"/>
<path d="M565.61 637.3L568.71 643.3L562.51 643.3Z" fill="#B24745"/>
<line x1="563.36" x2="567.87" y1="761" y2="761" stroke="#B24745" stroke-width="1.5"/>
<circle cx="565.61" cy="741.2" r="3.05" fill="#B24745"/>
<line x1="574.64" x2="574.64" y1="669.6" y2="764.4" stroke="#374E55" stroke-width="1.5"/>
<line x1="572.38" x2="576.89" y1="669.6" y2="669.6" stroke="#374E55" stroke-width="1.5"/>
<line x1="572.38" x2="576.89" y1="764.4" y2="764.4" stroke="#374E55" stroke-width="1.5"/>
<circle cx="574.64" cy="750.1" r="3.05" fill="#374E55"/>
<line x1="619.76" x2="619.76" y1="642.4" y2="762.7" stroke="#DF8F44" stroke-width="1.5"/>
<line x1="617.51" x2="622.02" y1="642.4" y2="642.4" stroke="#DF8F44" stroke-width="1.5"/>
<line x1="617.51" x2="622.02" y1="762.7" y2="762.7" stroke="#DF8F44" stroke-width="1.5"/>
<circle cx="619.76" cy="744.6" r="3.05" fill="#DF8F44"/>
<line x1="628.79" x2="628.79" y1="711" y2="766.7" stroke="#00A1D5" stroke-width="1.5"/>
<line x1="626.53" x2="631.04" y1="711" y2="711" stroke="#00A1D5" stroke-width="1.5"/>
<line x1="626.53" x2="631.04" y1="766.7" y2="766.7" stroke="#00A1D5" stroke-width="1.5"/>
<circle cx="628.79" cy="753.6" r="3.05" fill="#00A1D5"/>
<line x1="637.81" x2="637.81" y1="643.3" y2="761" stroke="#B24745" stroke-width="1.5"/>
<path d="M637.81 637.3L640.91 643.3L634.71 643.3Z" fill="#B24745"/>
<line x1="635.56" x2="640.07" y1="761" y2="761" stroke="#B24745" stroke-width="1.5"/>
<circle cx="637.81" cy="722.2" r="3.05" fill="#B24745"/>
<line x1="646.84" x2="646.84" y1="643.3" y2="765" stroke="#374E55" stroke-width="1.5"/>
<path d="M646.84 637.3L649.94 643.3L643.74 643.3Z" fill="#374E55"/>
<line x1="644.58" x2="649.09" y1="765" y2="765" stroke="#374E55" stroke-width="1.5"/>
<circle cx="646.84" cy="742.4" r="3.05" fill="#374E55"/>
</g></svg>
<rect x="461.9" y="637.5" width="198.6" height="153" fill="none" stroke="#BBBBBB" stroke-width="1.1"/>
<line x1="43.7" x2="47.6" y1="784.3" y2="784.3" stroke="#BBBBBB" stroke-width="1.1"/>
<text transform="translate(40.6,788.7) scale(1,1.001)" text-anchor="end" fill="#4D4D4D" font-size="12.6">0</text>
<line x1="43.7" x2="47.6" y1="749.3" y2="749.3" stroke="#BBBBBB" stroke-width="1.1"/>
<text transform="translate(40.6,753.7) scale(1,1.001)" text-anchor="end" fill="#4D4D4D" font-size="12.6">200</text>
<line x1="43.7" x2="47.6" y1="714.3" y2="714.3" stroke="#BBBBBB" stroke-width="1.1"/>
<text transform="translate(40.6,718.7) scale(1,1.001)" text-anchor="end" fill="#4D4D4D" font-size="12.6">400</text>
<line x1="43.7" x2="47.6" y1="679.3" y2="679.3" stroke="#BBBBBB" stroke-width="1.1"/>
<text transform="translate(40.6,683.7) scale(1,1.001)" text-anchor="end" fill="#4D4D4D" font-size="12.6">600</text>
<line x1="43.7" x2="47.6" y1="644.3" y2="644.3" stroke="#BBBBBB" stroke-width="1.1"/>
<text transform="translate(40.6,648.7) scale(1,1.001)" text-anchor="end" fill="#4D4D4D" font-size="12.6">800</text>
<line x1="74.4" x2="74.4" y1="790.5" y2="794.5" stroke="#BBBBBB" stroke-width="1.1"/>
<text transform="translate(74.4,806.8) scale(1,1.001)" text-anchor="middle" fill="#4D4D4D" font-size="12.6">40</text>
<line x1="146.9" x2="146.9" y1="790.5" y2="794.5" stroke="#BBBBBB" stroke-width="1.1"/>
<text transform="translate(146.9,806.8) scale(1,1.001)" text-anchor="middle" fill="#4D4D4D" font-size="12.6">60</text>
<line x1="219.4" x2="219.4" y1="790.5" y2="794.5" stroke="#BBBBBB" stroke-width="1.1"/>
<text transform="translate(219.4,806.8) scale(1,1.001)" text-anchor="middle" fill="#4D4D4D" font-size="12.6">80</text>
<line x1="276.6" x2="276.6" y1="790.5" y2="794.5" stroke="#BBBBBB" stroke-width="1.1"/>
<text transform="translate(276.6,806.8) scale(1,1.001)" text-anchor="middle" fill="#4D4D4D" font-size="12.6">20</text>
<line x1="328.48" x2="328.48" y1="790.5" y2="794.5" stroke="#BBBBBB" stroke-width="1.1"/>
<text transform="translate(328.48,806.8) scale(1,1.001)" text-anchor="middle" fill="#4D4D4D" font-size="12.6">40</text>
<line x1="380.36" x2="380.36" y1="790.5" y2="794.5" stroke="#BBBBBB" stroke-width="1.1"/>
<text transform="translate(380.36,806.8) scale(1,1.001)" text-anchor="middle" fill="#4D4D4D" font-size="12.6">60</text>
<line x1="432.24" x2="432.24" y1="790.5" y2="794.5" stroke="#BBBBBB" stroke-width="1.1"/>
<text transform="translate(432.24,806.8) scale(1,1.001)" text-anchor="middle" fill="#4D4D4D" font-size="12.6">80</text>
<line x1="488.9" x2="488.9" y1="790.5" y2="794.5" stroke="#BBBBBB" stroke-width="1.1"/>
<text transform="translate(488.9,806.8) scale(1,1.001)" text-anchor="middle" fill="#4D4D4D" font-size="12.6">20</text>
<line x1="561.1" x2="561.1" y1="790.5" y2="794.5" stroke="#BBBBBB" stroke-width="1.1"/>
<text transform="translate(561.1,806.8) scale(1,1.001)" text-anchor="middle" fill="#4D4D4D" font-size="12.6">40</text>
<line x1="633.3" x2="633.3" y1="790.5" y2="794.5" stroke="#BBBBBB" stroke-width="1.1"/>
<text transform="translate(633.3,806.8) scale(1,1.001)" text-anchor="middle" fill="#4D4D4D" font-size="12.6">60</text>
<text transform="translate(358.15,408.6) scale(1,1.001)" text-anchor="middle" fill="#000" font-size="15.05">Age (years)</text>
<text transform="translate(354.6,825) scale(1,1.001)" text-anchor="middle" fill="#000" font-size="15.05">Age (years)</text>
<text transform="translate(12.9,212.2) rotate(-90) scale(1,1.035)" text-anchor="middle" fill="#000" font-size="15.15">Days from first vaccination to 23 BAU/mL</text>
<text transform="translate(12.9,632.8) rotate(-90) scale(1,1.035)" text-anchor="middle" fill="#000" font-size="15.15">Days from first vaccination to 23 BAU/mL</text>
<line x1="117.8" x2="137.2" y1="862.4" y2="862.4" stroke="#DF8F44" stroke-width="1.5"/>
<circle cx="127.5" cy="862.4" r="3.05" fill="#DF8F44"/>
<text transform="translate(146.5,866.7) scale(1,1.001)" fill="#000" font-size="12.45">Female, white</text>
<line x1="234.2" x2="253.6" y1="862.4" y2="862.4" stroke="#00A1D5" stroke-width="1.5"/>
<circle cx="243.9" cy="862.4" r="3.05" fill="#00A1D5"/>
<text transform="translate(262.9,866.7) scale(1,1.001)" fill="#000" font-size="12.45">Male, white</text>
<line x1="336.2" x2="355.6" y1="862.4" y2="862.4" stroke="#B24745" stroke-width="1.5"/>
<circle cx="345.9" cy="862.4" r="3.05" fill="#B24745"/>
<text transform="translate(365,866.7) scale(1,1.001)" fill="#000" font-size="12.45">Female, non−white</text>
<line x1="480.5" x2="499.9" y1="862.4" y2="862.4" stroke="#374E55" stroke-width="1.5"/>
<circle cx="490.2" cy="862.4" r="3.05" fill="#374E55"/>
<text transform="translate(508.7,866.7) scale(1,1.001)" fill="#000" font-size="12.45">Male, non−white</text>
</svg>
</body></html>
